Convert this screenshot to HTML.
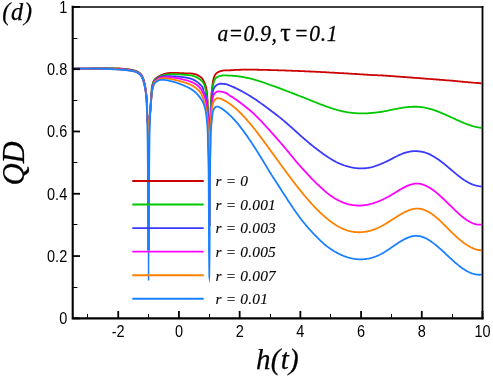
<!DOCTYPE html>
<html><head><meta charset="utf-8"><title>QD vs h(t)</title>
<style>
html,body{margin:0;padding:0;background:#fff;}
body{width:493px;height:378px;overflow:hidden;}
svg{display:block;will-change:transform;}
text{fill:#000;}
.ser{stroke:#000;stroke-width:0.25px;}
.leg{stroke:#000;stroke-width:0.1px;}
.tk{font-family:"Liberation Sans",sans-serif;font-size:16.2px;}
.leg{font-family:"Liberation Serif",serif;font-style:italic;font-size:15.4px;letter-spacing:0.2px;}
.ser{font-family:"Liberation Serif",serif;font-style:italic;}
</style></head><body>
<svg width="493" height="378" viewBox="0 0 493 378">
<rect x="0" y="0" width="493" height="378" fill="#fff"/>
<!-- curves -->
<path d="M72.70 68.60 L73.70 68.60 L74.70 68.60 L75.70 68.60 L76.70 68.60 L77.70 68.59 L78.70 68.59 L79.70 68.59 L80.70 68.58 L81.70 68.58 L82.70 68.57 L83.70 68.57 L84.70 68.56 L85.70 68.56 L86.70 68.55 L87.70 68.55 L88.70 68.54 L89.70 68.53 L90.70 68.53 L91.70 68.52 L92.70 68.51 L93.70 68.50 L94.70 68.49 L95.70 68.49 L96.70 68.48 L97.70 68.47 L98.70 68.46 L99.70 68.45 L100.00 68.45 L100.70 68.44 L101.70 68.43 L102.70 68.41 L103.70 68.39 L104.70 68.37 L105.70 68.35 L106.70 68.33 L107.70 68.32 L108.70 68.31 L109.70 68.30 L110.00 68.30 L110.70 68.30 L111.70 68.31 L112.70 68.32 L113.70 68.33 L114.70 68.35 L115.70 68.37 L116.70 68.40 L117.70 68.42 L118.70 68.45 L119.70 68.49 L120.70 68.55 L121.70 68.62 L122.70 68.71 L123.70 68.80 L124.70 68.91 L125.70 69.02 L126.70 69.14 L126.80 69.15 L127.70 69.26 L128.70 69.39 L129.70 69.54 L130.70 69.71 L131.70 69.89 L132.70 70.10 L133.70 70.33 L134.70 70.59 L134.90 70.65 L135.70 70.90 L136.70 71.30 L137.70 71.79 L138.70 72.38 L139.70 73.09 L139.90 73.25 L140.55 73.87 L140.65 73.98 L140.70 74.04 L140.75 74.10 L140.85 74.22 L140.95 74.35 L141.05 74.48 L141.15 74.61 L141.25 74.75 L141.35 74.90 L141.45 75.04 L141.55 75.20 L141.65 75.35 L141.70 75.43 L141.75 75.52 L141.85 75.68 L141.95 75.85 L142.05 76.02 L142.15 76.20 L142.25 76.38 L142.35 76.57 L142.45 76.76 L142.55 76.95 L142.65 77.15 L142.70 77.25 L142.75 77.36 L142.85 77.58 L142.95 77.83 L143.05 78.08 L143.15 78.35 L143.25 78.64 L143.35 78.94 L143.45 79.25 L143.55 79.56 L143.65 79.89 L143.70 80.06 L143.75 80.23 L143.85 80.58 L143.95 80.93 L144.05 81.29 L144.15 81.65 L144.25 82.02 L144.35 82.42 L144.45 82.83 L144.55 83.26 L144.65 83.70 L144.70 83.93 L144.75 84.16 L144.85 84.63 L144.95 85.12 L145.05 85.62 L145.15 86.13 L145.25 86.65 L145.35 87.18 L145.45 87.74 L145.55 88.31 L145.65 88.91 L145.70 89.22 L145.75 89.55 L145.85 90.23 L145.95 90.95 L146.05 91.73 L146.15 92.57 L146.25 93.47 L146.35 94.45 L146.45 95.51 L146.55 96.65 L146.65 97.65 L146.70 98.06 L146.75 98.47 L146.85 99.43 L146.95 100.82 L147.05 102.96 L147.15 106.15 L147.20 115.25 L147.25 117.04 L147.35 119.61 L147.45 121.15 L147.55 122.03 L147.65 122.62 L147.70 122.92 L147.75 123.28 L147.85 124.38 L147.95 126.30 L148.03 128.66 L148.05 129.70 L148.15 143.09 L148.25 168.02 L148.26 171.00 L148.35 204.71 L148.42 232.01 L148.45 241.76 L148.47 250.00 M148.63 250.00 L148.65 241.76 L148.68 232.01 L148.70 224.72 L148.75 204.71 L148.84 171.00 L148.85 168.02 L148.95 143.09 L148.96 141.44 L149.05 129.68 L149.07 128.67 L149.15 126.14 L149.25 123.48 L149.35 121.30 L149.45 119.52 L149.55 118.07 L149.65 116.88 L149.70 116.36 L149.75 115.87 L149.85 114.97 L149.95 114.10 L150.05 113.19 L150.15 112.16 L150.25 110.95 L150.30 110.25 L150.35 109.51 L150.45 108.04 L150.55 106.58 L150.65 105.11 L150.70 104.38 L150.75 103.66 L150.85 102.21 L150.95 100.77 L151.05 99.35 L151.15 97.95 L151.20 97.25 L151.25 96.53 L151.35 95.00 L151.45 93.39 L151.55 91.78 L151.65 90.25 L151.70 89.53 L151.75 88.86 L151.85 87.70 L151.95 86.84 L152.00 86.55 L152.05 86.31 L152.15 85.85 L152.25 85.41 L152.35 84.99 L152.45 84.59 L152.55 84.21 L152.65 83.85 L152.70 83.68 L152.75 83.51 L152.85 83.19 L152.95 82.88 L153.05 82.59 L153.15 82.32 L153.25 82.06 L153.35 81.82 L153.45 81.58 L153.55 81.37 L153.65 81.16 L153.70 81.06 L153.75 80.96 L153.85 80.78 L153.95 80.60 L154.05 80.43 L154.15 80.27 L154.25 80.12 L154.35 79.97 L154.45 79.83 L154.55 79.70 L154.65 79.57 L154.70 79.50 L154.75 79.44 L154.85 79.31 L154.90 79.25 L154.95 79.19 L155.05 79.08 L155.15 78.97 L155.25 78.87 L155.35 78.78 L155.45 78.69 L155.55 78.61 L155.65 78.53 L155.70 78.49 L155.75 78.46 L155.85 78.38 L155.95 78.30 L156.00 78.26 L156.05 78.22 L156.15 78.14 L156.25 78.06 L156.35 77.99 L156.45 77.91 L156.70 77.73 L157.50 77.19 L157.70 77.06 L158.70 76.43 L159.00 76.26 L159.70 75.87 L160.50 75.46 L160.70 75.37 L161.70 74.92 L162.00 74.79 L162.70 74.52 L163.50 74.24 L163.70 74.17 L164.70 73.87 L165.00 73.79 L165.70 73.62 L166.50 73.44 L166.70 73.40 L167.70 73.22 L168.00 73.17 L168.70 73.08 L169.50 72.99 L169.70 72.97 L170.70 72.89 L171.00 72.87 L171.70 72.83 L172.50 72.81 L172.70 72.81 L173.70 72.80 L174.00 72.80 L174.70 72.81 L175.50 72.83 L175.70 72.83 L176.70 72.87 L177.00 72.88 L177.70 72.92 L178.50 72.96 L178.70 72.98 L179.70 73.04 L180.00 73.06 L180.70 73.10 L181.50 73.15 L181.70 73.16 L182.70 73.22 L183.00 73.24 L183.70 73.27 L184.50 73.31 L184.70 73.31 L185.70 73.34 L186.00 73.35 L186.70 73.36 L187.50 73.37 L187.70 73.37 L188.70 73.39 L189.00 73.39 L189.70 73.42 L190.50 73.46 L190.70 73.47 L191.70 73.55 L192.00 73.58 L192.70 73.67 L193.50 73.80 L193.70 73.84 L194.70 74.07 L195.00 74.15 L195.70 74.37 L196.50 74.66 L196.70 74.74 L197.70 75.19 L198.00 75.35 L198.70 75.74 L199.50 76.26 L199.70 76.39 L200.70 77.16 L201.00 77.42 L201.30 77.70 L201.40 77.80 L201.50 77.90 L201.60 78.00 L201.70 78.11 L201.80 78.22 L201.90 78.33 L202.00 78.44 L202.10 78.56 L202.20 78.68 L202.30 78.80 L202.40 78.93 L202.50 79.06 L202.60 79.19 L202.70 79.33 L202.80 79.48 L202.90 79.62 L203.00 79.77 L203.10 79.93 L203.20 80.09 L203.30 80.26 L203.40 80.43 L203.50 80.61 L203.60 80.79 L203.70 80.97 L203.80 81.17 L203.90 81.36 L204.00 81.57 L204.10 81.77 L204.20 81.98 L204.30 82.20 L204.40 82.41 L204.50 82.64 L204.60 82.87 L204.70 83.10 L204.80 83.35 L204.90 83.60 L205.00 83.86 L205.10 84.13 L205.20 84.41 L205.30 84.71 L205.40 85.01 L205.50 85.33 L205.60 85.66 L205.70 86.01 L205.80 86.37 L205.90 86.75 L206.00 87.15 L206.10 87.57 L206.20 88.02 L206.30 88.51 L206.40 89.03 L206.50 89.60 L206.60 90.22 L206.70 90.89 L206.80 91.61 L206.90 92.40 L207.00 93.25 L207.10 94.27 L207.20 95.52 L207.30 96.98 L207.40 98.61 L207.50 100.37 L207.60 102.25 L207.70 104.38 L207.80 106.85 L207.90 109.57 L208.00 112.40 L208.10 115.25 L208.20 117.74 L208.30 119.78 L208.40 121.65 L208.50 123.62 L208.60 125.98 L208.70 129.01 L208.80 133.00 L208.90 138.23 L208.96 142.08 L209.00 147.84 L209.08 172.04 L209.10 180.87 L209.18 226.00 M209.42 226.00 L209.50 180.87 L209.52 172.04 L209.60 147.81 L209.64 142.08 L209.70 138.40 L209.80 133.66 L209.90 130.27 L210.00 127.81 L210.10 125.85 L210.20 123.94 L210.30 121.66 L210.35 120.25 L210.40 118.67 L210.50 115.34 L210.60 112.02 L210.70 109.00 L210.80 106.55 L210.90 104.55 L211.00 102.65 L211.10 100.86 L211.20 99.17 L211.30 97.58 L211.40 96.09 L211.50 94.69 L211.60 93.38 L211.70 92.15 L211.80 91.01 L211.90 89.95 L212.00 88.96 L212.10 88.05 L212.20 87.19 L212.30 86.35 L212.40 85.55 L212.50 84.78 L212.60 84.04 L212.70 83.34 L212.80 82.67 L212.90 82.04 L213.00 81.44 L213.10 80.88 L213.20 80.35 L213.30 79.87 L213.40 79.42 L213.50 79.02 L213.60 78.65 L213.70 78.31 L213.80 77.99 L213.90 77.68 L214.00 77.38 L214.10 77.09 L214.20 76.82 L214.30 76.56 L214.40 76.31 L214.50 76.08 L214.60 75.85 L214.70 75.64 L214.80 75.44 L214.90 75.25 L215.00 75.07 L215.10 74.90 L215.20 74.74 L215.30 74.59 L215.40 74.45 L215.50 74.32 L215.60 74.19 L215.70 74.07 L215.80 73.95 L215.90 73.84 L216.00 73.73 L216.10 73.63 L216.20 73.53 L216.30 73.43 L216.40 73.34 L216.50 73.25 L216.60 73.17 L216.70 73.08 L216.80 73.01 L216.90 72.93 L217.00 72.86 L217.10 72.79 L217.20 72.72 L217.30 72.65 L217.70 72.39 L218.70 71.82 L219.70 71.38 L220.40 71.15 L220.70 71.07 L221.70 70.83 L222.70 70.61 L223.70 70.46 L224.70 70.36 L225.00 70.35 L225.70 70.33 L226.70 70.32 L227.70 70.31 L228.70 70.30 L229.70 70.28 L230.00 70.27 L230.70 70.24 L231.70 70.16 L232.70 70.08 L233.00 70.06 L233.70 70.02 L234.70 69.96 L235.70 69.91 L236.00 69.90 L236.70 69.86 L237.70 69.82 L238.70 69.79 L239.00 69.78 L239.70 69.75 L240.70 69.73 L241.70 69.70 L242.00 69.70 L242.70 69.68 L243.70 69.67 L244.70 69.65 L245.00 69.65 L245.70 69.65 L246.70 69.64 L247.70 69.64 L248.00 69.64 L248.70 69.64 L249.70 69.64 L250.70 69.65 L251.00 69.65 L251.70 69.65 L252.70 69.66 L253.70 69.68 L254.00 69.68 L254.70 69.69 L255.70 69.71 L256.70 69.72 L257.00 69.73 L257.70 69.74 L258.70 69.76 L259.70 69.78 L260.00 69.79 L260.70 69.80 L261.70 69.82 L262.70 69.85 L263.00 69.85 L263.70 69.87 L264.70 69.89 L265.70 69.92 L266.00 69.92 L266.70 69.94 L267.70 69.97 L268.70 69.99 L269.00 70.00 L269.70 70.02 L270.70 70.04 L271.70 70.07 L272.00 70.08 L272.70 70.10 L273.70 70.13 L274.70 70.16 L275.00 70.17 L275.70 70.19 L276.70 70.22 L277.70 70.25 L278.00 70.26 L278.70 70.28 L279.70 70.31 L280.70 70.34 L281.00 70.35 L281.70 70.37 L282.70 70.41 L283.70 70.44 L284.00 70.45 L284.70 70.47 L285.70 70.51 L286.70 70.54 L287.00 70.55 L287.70 70.58 L288.70 70.62 L289.70 70.65 L290.00 70.66 L290.70 70.69 L291.70 70.73 L292.70 70.76 L293.00 70.78 L293.70 70.80 L294.70 70.84 L295.70 70.88 L296.00 70.89 L296.70 70.92 L297.70 70.96 L298.70 71.00 L299.00 71.01 L299.70 71.04 L300.70 71.08 L301.70 71.13 L302.00 71.14 L302.70 71.17 L303.70 71.21 L304.70 71.25 L305.00 71.27 L305.70 71.30 L306.70 71.34 L307.70 71.39 L308.00 71.40 L308.70 71.43 L309.70 71.48 L310.70 71.52 L311.00 71.54 L311.70 71.57 L312.70 71.62 L313.70 71.67 L314.00 71.68 L314.70 71.71 L315.70 71.76 L316.70 71.81 L317.00 71.82 L317.70 71.86 L318.70 71.91 L319.70 71.96 L320.00 71.97 L320.70 72.01 L321.70 72.06 L322.70 72.11 L323.00 72.12 L323.70 72.16 L324.70 72.21 L325.70 72.26 L326.00 72.28 L326.70 72.32 L327.70 72.37 L328.70 72.42 L329.00 72.44 L329.70 72.48 L330.70 72.53 L331.70 72.58 L332.00 72.60 L332.70 72.64 L333.70 72.69 L334.70 72.75 L335.00 72.77 L335.70 72.81 L336.70 72.86 L337.70 72.92 L338.00 72.94 L338.70 72.98 L339.70 73.03 L340.70 73.09 L341.00 73.11 L341.70 73.15 L342.70 73.21 L343.70 73.26 L344.00 73.28 L344.70 73.32 L345.70 73.38 L346.70 73.44 L347.00 73.46 L347.70 73.50 L348.70 73.56 L349.70 73.62 L350.00 73.64 L350.70 73.68 L351.70 73.75 L352.70 73.81 L353.00 73.83 L353.70 73.87 L354.70 73.93 L355.70 73.99 L356.00 74.01 L356.70 74.06 L357.70 74.12 L358.70 74.18 L359.00 74.20 L359.70 74.25 L360.70 74.31 L361.70 74.37 L362.00 74.39 L362.70 74.44 L363.70 74.50 L364.70 74.57 L365.00 74.59 L365.70 74.63 L366.70 74.70 L367.70 74.76 L368.00 74.78 L368.70 74.83 L369.70 74.90 L370.70 74.95 L371.00 74.96 L371.70 74.99 L372.70 75.03 L373.70 75.07 L374.00 75.08 L374.70 75.11 L375.70 75.15 L376.70 75.19 L377.00 75.21 L377.70 75.24 L378.70 75.28 L379.70 75.33 L380.00 75.35 L380.70 75.38 L381.70 75.44 L382.70 75.49 L383.00 75.51 L383.70 75.56 L384.70 75.62 L385.70 75.69 L386.00 75.71 L386.70 75.76 L387.70 75.83 L388.70 75.90 L389.00 75.93 L389.70 75.98 L390.70 76.05 L391.70 76.12 L392.00 76.14 L392.70 76.19 L393.70 76.26 L394.70 76.33 L395.00 76.36 L395.70 76.41 L396.70 76.48 L397.70 76.55 L398.00 76.57 L398.70 76.62 L399.70 76.70 L400.70 76.77 L401.00 76.79 L401.70 76.84 L402.70 76.92 L403.70 76.99 L404.00 77.01 L404.70 77.06 L405.70 77.14 L406.70 77.21 L407.00 77.23 L407.70 77.29 L408.70 77.36 L409.70 77.44 L410.00 77.46 L410.70 77.51 L411.70 77.59 L412.70 77.66 L413.00 77.68 L413.70 77.74 L414.70 77.81 L415.70 77.89 L416.00 77.91 L416.70 77.96 L417.70 78.04 L418.70 78.11 L419.00 78.14 L419.70 78.19 L420.70 78.27 L421.70 78.34 L422.00 78.37 L422.70 78.42 L423.70 78.50 L424.70 78.57 L425.00 78.60 L425.70 78.65 L426.70 78.73 L427.70 78.80 L428.00 78.83 L428.70 78.88 L429.70 78.96 L430.70 79.03 L431.00 79.06 L431.70 79.11 L432.70 79.19 L433.70 79.27 L434.00 79.29 L434.70 79.34 L435.70 79.42 L436.70 79.50 L437.00 79.52 L437.70 79.58 L438.70 79.66 L439.70 79.73 L440.00 79.76 L440.70 79.81 L441.70 79.89 L442.70 79.97 L443.00 79.99 L443.70 80.05 L444.70 80.12 L445.70 80.20 L446.00 80.23 L446.70 80.28 L447.70 80.36 L448.70 80.44 L449.00 80.46 L449.70 80.52 L450.70 80.60 L451.70 80.68 L452.00 80.71 L452.70 80.77 L453.70 80.86 L454.70 80.95 L455.00 80.98 L455.70 81.05 L456.70 81.15 L457.70 81.25 L458.00 81.28 L458.70 81.35 L459.70 81.45 L460.70 81.55 L461.00 81.58 L461.70 81.65 L462.70 81.75 L463.70 81.85 L464.00 81.88 L464.70 81.95 L465.70 82.04 L466.70 82.13 L467.00 82.16 L467.70 82.22 L468.70 82.31 L469.70 82.39 L470.00 82.42 L470.70 82.47 L471.70 82.55 L472.70 82.63 L473.00 82.65 L473.70 82.71 L474.70 82.79 L475.70 82.87 L476.00 82.89 L476.70 82.94 L477.70 83.02 L478.70 83.10 L479.00 83.13 L479.70 83.18 L480.70 83.26 L481.50 83.32" fill="none" stroke="#cc0000" stroke-width="1.80" stroke-linejoin="bevel" stroke-linecap="butt"/>
<path d="M72.70 68.60 L73.70 68.60 L74.70 68.59 L75.70 68.59 L76.70 68.59 L77.70 68.58 L78.70 68.58 L79.70 68.57 L80.70 68.57 L81.70 68.57 L82.70 68.56 L83.70 68.56 L84.70 68.56 L85.70 68.56 L86.70 68.55 L87.70 68.55 L88.70 68.55 L89.70 68.54 L90.70 68.54 L91.70 68.54 L92.70 68.53 L93.70 68.53 L94.70 68.53 L95.70 68.52 L96.70 68.52 L97.70 68.52 L98.70 68.52 L99.70 68.51 L100.00 68.51 L100.70 68.51 L101.70 68.51 L102.70 68.50 L103.70 68.50 L104.70 68.50 L105.70 68.49 L106.70 68.49 L107.70 68.49 L108.70 68.49 L109.70 68.49 L110.00 68.49 L110.70 68.49 L111.70 68.50 L112.70 68.51 L113.70 68.54 L114.70 68.56 L115.70 68.59 L116.70 68.63 L117.70 68.66 L118.70 68.70 L119.70 68.75 L120.70 68.81 L121.70 68.88 L122.70 68.96 L123.70 69.06 L124.70 69.16 L125.70 69.27 L126.70 69.39 L126.80 69.40 L127.70 69.51 L128.70 69.64 L129.70 69.79 L130.70 69.96 L131.70 70.14 L132.70 70.35 L133.70 70.58 L134.70 70.84 L134.90 70.90 L135.70 71.15 L136.70 71.54 L137.70 72.03 L138.70 72.63 L139.70 73.34 L139.90 73.50 L140.55 74.13 L140.65 74.25 L140.70 74.31 L140.75 74.37 L140.85 74.50 L140.95 74.63 L141.05 74.76 L141.15 74.90 L141.25 75.05 L141.35 75.20 L141.45 75.35 L141.55 75.51 L141.65 75.67 L141.70 75.76 L141.75 75.84 L141.85 76.01 L141.95 76.19 L142.05 76.37 L142.15 76.55 L142.25 76.74 L142.35 76.93 L142.45 77.13 L142.55 77.32 L142.59 77.41 L142.65 77.53 L142.70 77.64 L142.75 77.75 L142.85 77.99 L142.95 78.24 L143.05 78.51 L143.15 78.79 L143.25 79.08 L143.35 79.38 L143.45 79.70 L143.55 80.02 L143.65 80.36 L143.70 80.53 L143.75 80.70 L143.85 81.05 L143.95 81.40 L144.05 81.76 L144.09 81.91 L144.15 82.13 L144.25 82.52 L144.35 82.92 L144.45 83.34 L144.55 83.78 L144.65 84.23 L144.70 84.47 L144.75 84.70 L144.85 85.18 L144.95 85.68 L145.05 86.18 L145.15 86.70 L145.19 86.91 L145.25 87.23 L145.35 87.78 L145.45 88.34 L145.55 88.93 L145.65 89.55 L145.70 89.88 L145.75 90.22 L145.85 90.92 L145.89 91.22 L145.95 91.68 L146.05 92.49 L146.15 93.37 L146.25 94.32 L146.35 95.35 L146.45 96.46 L146.49 96.93 L146.55 97.60 L146.65 98.64 L146.70 99.17 L146.75 99.74 L146.85 101.09 L146.95 102.88 L147.05 105.30 L147.09 106.49 L147.15 111.44 L147.20 115.25 L147.25 116.72 L147.35 118.88 L147.45 120.26 L147.55 121.18 L147.65 121.93 L147.70 122.34 L147.75 122.82 L147.85 124.16 L147.95 126.24 L148.03 128.66 L148.05 129.70 L148.15 143.09 L148.25 168.02 L148.26 171.00 L148.35 204.71 L148.42 232.01 L148.45 241.76 L148.47 250.00 M148.63 250.00 L148.65 241.76 L148.68 232.01 L148.70 224.72 L148.75 204.71 L148.84 171.00 L148.85 168.02 L148.95 143.09 L148.96 141.44 L149.05 129.68 L149.07 128.67 L149.15 126.14 L149.25 123.48 L149.35 121.30 L149.45 119.52 L149.55 118.07 L149.65 116.88 L149.70 116.36 L149.75 115.87 L149.85 114.97 L149.95 114.10 L150.05 113.19 L150.15 112.16 L150.25 110.95 L150.30 110.25 L150.35 109.51 L150.45 108.02 L150.55 106.51 L150.65 105.00 L150.70 104.25 L150.75 103.51 L150.85 102.04 L150.95 100.60 L151.05 99.21 L151.15 97.89 L151.20 97.25 L151.25 96.61 L151.35 95.30 L151.45 93.97 L151.55 92.66 L151.65 91.39 L151.70 90.79 L151.75 90.21 L151.85 89.15 L151.95 88.24 L152.05 87.53 L152.10 87.25 L152.15 87.01 L152.25 86.54 L152.35 86.09 L152.45 85.66 L152.55 85.24 L152.65 84.85 L152.70 84.66 L152.75 84.48 L152.85 84.12 L152.95 83.78 L153.05 83.46 L153.15 83.15 L153.25 82.86 L153.35 82.58 L153.45 82.32 L153.55 82.07 L153.65 81.84 L153.70 81.73 L153.75 81.62 L153.85 81.41 L153.95 81.21 L154.05 81.02 L154.15 80.85 L154.25 80.68 L154.35 80.53 L154.45 80.38 L154.55 80.24 L154.65 80.11 L154.70 80.05 L154.75 79.99 L154.85 79.88 L154.95 79.77 L155.05 79.68 L155.15 79.59 L155.25 79.51 L155.35 79.43 L155.45 79.35 L155.55 79.28 L155.65 79.21 L155.70 79.17 L155.75 79.14 L155.85 79.07 L155.95 78.99 L156.00 78.95 L156.05 78.91 L156.15 78.84 L156.25 78.76 L156.35 78.69 L156.45 78.61 L156.70 78.43 L157.50 77.89 L157.70 77.76 L158.70 77.17 L159.00 77.00 L159.70 76.64 L160.50 76.27 L160.70 76.19 L161.70 75.79 L162.00 75.69 L162.70 75.46 L163.50 75.22 L163.70 75.17 L164.70 74.94 L165.00 74.87 L165.70 74.74 L166.50 74.62 L166.70 74.59 L167.70 74.48 L168.00 74.45 L168.70 74.39 L169.50 74.34 L169.70 74.33 L170.70 74.29 L171.00 74.28 L171.70 74.27 L172.50 74.26 L172.70 74.26 L173.70 74.26 L174.00 74.26 L174.70 74.26 L175.50 74.27 L175.70 74.28 L176.70 74.30 L177.00 74.31 L177.70 74.33 L178.50 74.36 L178.70 74.37 L179.70 74.41 L180.00 74.43 L180.70 74.47 L181.50 74.51 L181.70 74.53 L182.70 74.59 L183.00 74.62 L183.70 74.67 L184.50 74.73 L184.70 74.75 L185.70 74.84 L186.00 74.87 L186.70 74.94 L187.50 75.02 L187.70 75.04 L188.70 75.15 L189.00 75.19 L189.70 75.29 L190.50 75.41 L190.70 75.45 L191.70 75.64 L192.00 75.70 L192.70 75.87 L193.50 76.09 L193.70 76.15 L194.70 76.48 L195.00 76.59 L195.70 76.88 L196.50 77.24 L196.70 77.34 L197.70 77.87 L198.00 78.05 L198.70 78.49 L199.50 79.05 L199.70 79.20 L200.70 80.00 L201.00 80.26 L201.30 80.52 L201.40 80.61 L201.50 80.70 L201.60 80.79 L201.70 80.89 L201.80 80.98 L201.90 81.08 L202.00 81.18 L202.10 81.28 L202.20 81.39 L202.30 81.50 L202.40 81.61 L202.50 81.73 L202.60 81.86 L202.70 81.99 L202.80 82.12 L202.90 82.26 L203.00 82.41 L203.10 82.56 L203.20 82.71 L203.30 82.88 L203.40 83.05 L203.50 83.22 L203.60 83.41 L203.70 83.60 L203.80 83.80 L203.90 84.00 L204.00 84.22 L204.10 84.45 L204.20 84.69 L204.30 84.96 L204.40 85.24 L204.50 85.54 L204.60 85.85 L204.70 86.17 L204.80 86.51 L204.90 86.86 L205.00 87.22 L205.10 87.59 L205.20 87.97 L205.30 88.36 L205.40 88.75 L205.50 89.16 L205.60 89.59 L205.70 90.04 L205.80 90.51 L205.90 91.01 L206.00 91.52 L206.10 92.05 L206.20 92.60 L206.30 93.17 L206.40 93.75 L206.50 94.33 L206.60 94.91 L206.70 95.49 L206.80 96.10 L206.90 96.76 L207.00 97.49 L207.10 98.30 L207.20 99.21 L207.30 100.25 L207.40 101.60 L207.50 103.36 L207.60 105.46 L207.70 107.79 L207.80 110.26 L207.90 112.78 L208.00 115.25 L208.10 117.41 L208.20 119.19 L208.30 120.80 L208.40 122.46 L208.50 124.36 L208.60 126.71 L208.70 129.71 L208.80 133.58 L208.90 138.53 L208.96 142.09 L209.00 147.74 L209.08 172.04 L209.10 180.87 L209.18 226.00 M209.42 226.00 L209.50 180.87 L209.52 172.04 L209.60 147.75 L209.64 142.09 L209.70 138.57 L209.80 133.94 L209.90 130.55 L210.00 128.07 L210.10 126.14 L210.20 124.42 L210.30 122.58 L210.40 120.25 L210.50 117.49 L210.60 114.63 L210.70 111.75 L210.80 108.95 L210.90 106.31 L211.00 103.92 L211.10 101.87 L211.20 100.25 L211.30 98.91 L211.40 97.64 L211.50 96.43 L211.60 95.29 L211.70 94.22 L211.80 93.21 L211.90 92.25 L212.00 91.36 L212.10 90.53 L212.20 89.75 L212.30 89.02 L212.40 88.35 L212.50 87.73 L212.60 87.15 L212.70 86.63 L212.80 86.15 L212.90 85.70 L213.00 85.26 L213.10 84.83 L213.20 84.41 L213.30 84.01 L213.40 83.61 L213.50 83.23 L213.60 82.86 L213.70 82.51 L213.80 82.16 L213.90 81.83 L214.00 81.51 L214.10 81.21 L214.20 80.92 L214.30 80.64 L214.40 80.38 L214.50 80.13 L214.60 79.90 L214.70 79.67 L214.80 79.47 L214.90 79.28 L215.00 79.10 L215.10 78.94 L215.20 78.79 L215.30 78.66 L215.40 78.55 L215.50 78.44 L215.60 78.34 L215.70 78.24 L215.80 78.15 L215.90 78.05 L216.00 77.96 L216.10 77.88 L216.20 77.79 L216.30 77.71 L216.40 77.63 L216.50 77.55 L216.60 77.48 L216.70 77.40 L216.80 77.33 L216.90 77.27 L217.00 77.20 L217.10 77.14 L217.20 77.08 L217.70 76.80 L218.70 76.38 L219.10 76.25 L219.70 76.07 L220.70 75.80 L221.70 75.57 L222.70 75.42 L223.70 75.35 L223.80 75.35 L224.70 75.36 L225.70 75.40 L226.70 75.45 L227.70 75.51 L228.70 75.57 L229.70 75.63 L230.00 75.64 L230.70 75.68 L231.70 75.72 L232.70 75.77 L233.00 75.79 L233.70 75.84 L234.70 75.92 L235.70 76.02 L236.00 76.05 L236.70 76.12 L237.70 76.24 L238.70 76.37 L239.00 76.41 L239.70 76.51 L240.70 76.66 L241.70 76.82 L242.00 76.87 L242.70 76.99 L243.70 77.17 L244.70 77.36 L245.00 77.41 L245.70 77.55 L246.70 77.76 L247.70 77.98 L248.00 78.05 L248.70 78.21 L249.70 78.45 L250.70 78.69 L251.00 78.77 L251.70 78.94 L252.70 79.21 L253.70 79.48 L254.00 79.56 L254.70 79.75 L255.70 80.04 L256.70 80.33 L257.00 80.42 L257.70 80.63 L258.70 80.94 L259.70 81.25 L260.00 81.35 L260.70 81.57 L261.70 81.90 L262.70 82.24 L263.00 82.34 L263.70 82.58 L264.70 82.92 L265.70 83.27 L266.00 83.38 L266.70 83.63 L267.70 83.99 L268.70 84.36 L269.00 84.47 L269.70 84.73 L270.70 85.08 L271.70 85.43 L272.00 85.53 L272.70 85.77 L273.70 86.12 L274.70 86.48 L275.00 86.58 L275.70 86.83 L276.70 87.20 L277.70 87.56 L278.00 87.67 L278.70 87.93 L279.70 88.30 L280.70 88.68 L281.00 88.79 L281.70 89.05 L282.70 89.43 L283.70 89.81 L284.00 89.93 L284.70 90.20 L285.70 90.58 L286.70 90.97 L287.00 91.09 L287.70 91.36 L288.70 91.75 L289.70 92.14 L290.00 92.26 L290.70 92.53 L291.70 92.92 L292.70 93.31 L293.00 93.43 L293.70 93.70 L294.70 94.10 L295.70 94.49 L296.00 94.60 L296.70 94.87 L297.70 95.25 L298.70 95.63 L299.00 95.74 L299.70 96.00 L300.70 96.37 L301.70 96.75 L302.00 96.86 L302.70 97.13 L303.70 97.51 L304.70 97.90 L305.00 98.02 L305.70 98.30 L306.70 98.71 L307.70 99.12 L308.00 99.25 L308.70 99.54 L309.70 99.95 L310.70 100.36 L311.00 100.48 L311.70 100.77 L312.70 101.18 L313.70 101.58 L314.00 101.70 L314.70 101.98 L315.70 102.38 L316.70 102.77 L317.00 102.89 L317.70 103.16 L318.70 103.55 L319.70 103.93 L320.00 104.04 L320.70 104.31 L321.70 104.68 L322.70 105.06 L323.00 105.17 L323.70 105.43 L324.70 105.80 L325.70 106.17 L326.00 106.28 L326.70 106.53 L327.70 106.89 L328.70 107.24 L329.00 107.34 L329.70 107.58 L330.70 107.92 L331.70 108.25 L332.00 108.34 L332.70 108.57 L333.70 108.88 L334.70 109.18 L335.00 109.27 L335.70 109.47 L336.70 109.76 L337.70 110.03 L338.00 110.12 L338.70 110.30 L339.70 110.56 L340.70 110.81 L341.00 110.88 L341.70 111.05 L342.70 111.28 L343.70 111.50 L344.00 111.56 L344.70 111.70 L345.70 111.90 L346.70 112.08 L347.00 112.13 L347.70 112.25 L348.70 112.41 L349.70 112.56 L350.00 112.60 L350.70 112.69 L351.70 112.82 L352.70 112.93 L353.00 112.96 L353.70 113.03 L354.70 113.12 L355.70 113.20 L356.00 113.22 L356.70 113.27 L357.70 113.33 L358.70 113.38 L359.00 113.39 L359.70 113.40 L360.70 113.42 L361.70 113.44 L362.00 113.44 L362.70 113.44 L363.70 113.42 L364.70 113.39 L365.00 113.39 L365.70 113.36 L366.70 113.31 L367.70 113.25 L368.00 113.23 L368.70 113.19 L369.70 113.11 L370.70 113.03 L371.00 113.00 L371.70 112.94 L372.70 112.85 L373.70 112.75 L374.00 112.72 L374.70 112.65 L375.70 112.54 L376.70 112.42 L377.00 112.39 L377.70 112.30 L378.70 112.17 L379.70 112.04 L380.00 111.99 L380.70 111.89 L381.70 111.74 L382.70 111.58 L383.00 111.53 L383.70 111.41 L384.70 111.22 L385.70 111.03 L386.00 110.97 L386.70 110.83 L387.70 110.63 L388.70 110.42 L389.00 110.36 L389.70 110.21 L390.70 109.99 L391.70 109.78 L392.00 109.72 L392.70 109.57 L393.70 109.36 L394.70 109.16 L395.00 109.10 L395.70 108.97 L396.70 108.77 L397.70 108.58 L398.00 108.53 L398.70 108.40 L399.70 108.22 L400.70 108.04 L401.00 107.99 L401.70 107.87 L402.70 107.72 L403.70 107.57 L404.00 107.53 L404.70 107.43 L405.70 107.31 L406.70 107.19 L407.00 107.16 L407.70 107.10 L408.70 107.01 L409.70 106.93 L410.00 106.91 L410.70 106.87 L411.70 106.81 L412.70 106.77 L413.00 106.77 L413.70 106.76 L414.70 106.75 L415.70 106.75 L416.00 106.75 L416.70 106.77 L417.70 106.81 L418.70 106.88 L419.00 106.90 L419.70 106.95 L420.70 107.06 L421.70 107.17 L422.00 107.21 L422.70 107.31 L423.70 107.46 L424.70 107.63 L425.00 107.69 L425.70 107.82 L426.70 108.04 L427.70 108.26 L428.00 108.34 L428.70 108.51 L429.70 108.78 L430.70 109.06 L431.00 109.14 L431.70 109.35 L432.70 109.67 L433.70 109.99 L434.00 110.09 L434.70 110.33 L435.70 110.69 L436.70 111.05 L437.00 111.16 L437.70 111.43 L438.70 111.82 L439.70 112.22 L440.00 112.34 L440.70 112.63 L441.70 113.05 L442.70 113.48 L443.00 113.60 L443.70 113.91 L444.70 114.35 L445.70 114.80 L446.00 114.93 L446.70 115.24 L447.70 115.70 L448.70 116.16 L449.00 116.29 L449.70 116.62 L450.70 117.08 L451.70 117.54 L452.00 117.68 L452.70 118.00 L453.70 118.46 L454.70 118.92 L455.00 119.05 L455.70 119.37 L456.70 119.82 L457.70 120.27 L458.00 120.40 L458.70 120.71 L459.70 121.16 L460.70 121.59 L461.00 121.72 L461.70 122.02 L462.70 122.45 L463.70 122.86 L464.00 122.99 L464.70 123.27 L465.70 123.67 L466.70 124.05 L467.00 124.17 L467.70 124.43 L468.70 124.79 L469.70 125.13 L470.00 125.23 L470.70 125.46 L471.70 125.78 L472.70 126.08 L473.00 126.16 L473.70 126.36 L474.70 126.62 L475.70 126.86 L476.00 126.92 L476.70 127.07 L477.70 127.27 L478.70 127.45 L479.00 127.50 L479.70 127.60 L480.70 127.74 L481.50 127.83" fill="none" stroke="#00c800" stroke-width="1.80" stroke-linejoin="bevel" stroke-linecap="butt"/>
<path d="M72.70 68.60 L73.70 68.60 L74.70 68.59 L75.70 68.59 L76.70 68.59 L77.70 68.59 L78.70 68.59 L79.70 68.59 L80.70 68.58 L81.70 68.58 L82.70 68.58 L83.70 68.58 L84.70 68.58 L85.70 68.58 L86.70 68.58 L87.70 68.58 L88.70 68.58 L89.70 68.58 L90.70 68.58 L91.70 68.58 L92.70 68.58 L93.70 68.58 L94.70 68.58 L95.70 68.58 L96.70 68.58 L97.70 68.58 L98.70 68.58 L99.70 68.58 L100.00 68.57 L100.70 68.58 L101.70 68.58 L102.70 68.58 L103.70 68.59 L104.70 68.60 L105.70 68.61 L106.70 68.63 L107.70 68.64 L108.70 68.66 L109.70 68.67 L110.00 68.67 L110.70 68.69 L111.70 68.71 L112.70 68.73 L113.70 68.76 L114.70 68.79 L115.70 68.82 L116.70 68.86 L117.70 68.91 L118.70 68.95 L119.70 69.00 L120.70 69.07 L121.70 69.14 L122.70 69.22 L123.70 69.32 L124.70 69.42 L125.70 69.52 L126.70 69.64 L126.80 69.65 L127.70 69.76 L128.70 69.89 L129.70 70.04 L130.70 70.21 L131.70 70.39 L132.70 70.60 L133.70 70.83 L134.70 71.09 L134.90 71.15 L135.70 71.40 L136.70 71.79 L137.70 72.28 L138.70 72.87 L139.70 73.59 L139.90 73.75 L140.55 74.40 L140.65 74.52 L140.70 74.58 L140.75 74.65 L140.85 74.78 L140.95 74.91 L141.05 75.05 L141.15 75.20 L141.25 75.35 L141.35 75.51 L141.45 75.67 L141.55 75.83 L141.65 76.00 L141.70 76.09 L141.75 76.17 L141.85 76.35 L141.95 76.53 L142.05 76.72 L142.15 76.91 L142.25 77.10 L142.35 77.30 L142.45 77.50 L142.52 77.64 L142.55 77.70 L142.65 77.92 L142.70 78.03 L142.75 78.15 L142.85 78.40 L142.95 78.66 L143.05 78.94 L143.15 79.22 L143.25 79.52 L143.35 79.83 L143.45 80.15 L143.55 80.48 L143.65 80.82 L143.70 80.99 L143.75 81.17 L143.85 81.52 L143.95 81.88 L144.02 82.13 L144.05 82.24 L144.15 82.62 L144.25 83.02 L144.35 83.43 L144.45 83.86 L144.55 84.31 L144.65 84.77 L144.70 85.01 L144.75 85.25 L144.85 85.74 L144.95 86.24 L145.05 86.76 L145.12 87.12 L145.15 87.28 L145.25 87.82 L145.35 88.38 L145.45 88.96 L145.55 89.57 L145.65 90.21 L145.70 90.55 L145.75 90.90 L145.83 91.49 L145.85 91.64 L145.95 92.43 L146.05 93.29 L146.15 94.21 L146.25 95.21 L146.35 96.28 L146.43 97.21 L146.45 97.44 L146.55 98.60 L146.65 99.81 L146.70 100.46 L146.75 101.17 L146.85 102.81 L146.95 104.82 L147.02 106.52 L147.05 107.53 L147.15 113.12 L147.20 115.25 L147.25 116.50 L147.35 118.38 L147.45 119.66 L147.55 120.60 L147.65 121.46 L147.70 121.95 L147.75 122.51 L147.85 124.00 L147.95 126.21 L148.03 128.66 L148.05 129.70 L148.15 143.09 L148.25 168.02 L148.26 171.00 L148.35 204.71 L148.42 232.01 L148.45 241.76 L148.47 250.00 M148.63 250.00 L148.65 241.76 L148.68 232.01 L148.70 224.72 L148.75 204.71 L148.84 171.00 L148.85 168.02 L148.95 143.09 L148.96 141.44 L149.05 129.67 L149.07 128.67 L149.15 126.22 L149.25 123.61 L149.35 121.47 L149.45 119.70 L149.55 118.26 L149.65 117.07 L149.70 116.55 L149.75 116.06 L149.85 115.18 L149.95 114.35 L150.05 113.51 L150.15 112.59 L150.25 111.53 L150.35 110.25 L150.45 108.83 L150.55 107.38 L150.65 105.92 L150.70 105.20 L150.75 104.47 L150.85 103.04 L150.95 101.64 L151.05 100.29 L151.15 99.01 L151.25 97.81 L151.30 97.25 L151.35 96.70 L151.45 95.59 L151.55 94.49 L151.65 93.41 L151.70 92.88 L151.75 92.37 L151.85 91.38 L151.95 90.47 L152.05 89.64 L152.15 88.91 L152.25 88.31 L152.30 88.05 L152.35 87.81 L152.45 87.36 L152.55 86.91 L152.65 86.49 L152.70 86.29 L152.75 86.09 L152.85 85.70 L152.95 85.33 L153.05 84.97 L153.15 84.63 L153.25 84.30 L153.35 83.99 L153.45 83.70 L153.55 83.41 L153.65 83.14 L153.70 83.02 L153.75 82.89 L153.85 82.65 L153.95 82.42 L154.05 82.20 L154.15 81.99 L154.25 81.80 L154.35 81.61 L154.45 81.44 L154.55 81.28 L154.65 81.12 L154.70 81.05 L154.75 80.98 L154.85 80.85 L154.95 80.72 L155.05 80.60 L155.15 80.49 L155.25 80.39 L155.35 80.29 L155.45 80.20 L155.55 80.11 L155.65 80.02 L155.70 79.98 L155.75 79.94 L155.85 79.85 L155.95 79.77 L156.00 79.72 L156.05 79.68 L156.15 79.59 L156.25 79.51 L156.35 79.42 L156.45 79.34 L156.70 79.15 L157.50 78.57 L157.70 78.44 L158.70 77.84 L159.00 77.68 L159.70 77.35 L160.50 77.03 L160.70 76.96 L161.70 76.65 L162.00 76.58 L162.70 76.43 L163.50 76.30 L163.70 76.27 L164.70 76.17 L165.00 76.15 L165.70 76.12 L166.50 76.11 L166.70 76.11 L167.70 76.13 L168.00 76.13 L168.70 76.16 L169.50 76.20 L169.70 76.21 L170.70 76.26 L171.00 76.27 L171.70 76.30 L172.50 76.34 L172.70 76.35 L173.70 76.40 L174.00 76.41 L174.70 76.45 L175.50 76.49 L175.70 76.50 L176.70 76.56 L177.00 76.58 L177.70 76.62 L178.50 76.68 L178.70 76.69 L179.70 76.77 L180.00 76.80 L180.70 76.86 L181.50 76.94 L181.70 76.96 L182.70 77.08 L183.00 77.11 L183.70 77.20 L184.50 77.32 L184.70 77.34 L185.70 77.50 L186.00 77.55 L186.70 77.68 L187.50 77.84 L187.70 77.88 L188.70 78.11 L189.00 78.18 L189.70 78.37 L190.50 78.61 L190.70 78.67 L191.70 79.02 L192.00 79.13 L192.70 79.41 L193.50 79.77 L193.70 79.87 L194.70 80.39 L195.00 80.55 L195.70 80.97 L196.50 81.49 L196.70 81.62 L197.70 82.36 L198.00 82.60 L198.70 83.18 L199.50 83.90 L199.70 84.08 L200.70 85.08 L201.00 85.41 L201.30 85.73 L201.40 85.83 L201.50 85.93 L201.60 86.04 L201.70 86.15 L201.80 86.26 L201.90 86.38 L202.00 86.50 L202.10 86.63 L202.20 86.76 L202.30 86.91 L202.40 87.06 L202.50 87.23 L202.60 87.41 L202.70 87.63 L202.80 87.88 L202.90 88.15 L203.00 88.44 L203.10 88.75 L203.20 89.06 L203.30 89.39 L203.40 89.71 L203.50 90.04 L203.60 90.36 L203.70 90.67 L203.80 90.97 L203.90 91.25 L204.00 91.51 L204.10 91.75 L204.20 91.97 L204.30 92.17 L204.40 92.37 L204.50 92.56 L204.60 92.76 L204.70 92.95 L204.80 93.16 L204.90 93.38 L205.00 93.61 L205.10 93.87 L205.20 94.15 L205.30 94.45 L205.40 94.77 L205.50 95.10 L205.60 95.46 L205.70 95.83 L205.80 96.22 L205.90 96.64 L206.00 97.08 L206.10 97.55 L206.20 98.05 L206.30 98.58 L206.40 99.14 L206.50 99.74 L206.60 100.37 L206.70 101.04 L206.80 101.75 L206.90 102.57 L207.00 103.55 L207.10 104.67 L207.20 105.92 L207.30 107.29 L207.40 108.76 L207.50 110.30 L207.60 111.91 L207.70 113.56 L207.80 115.25 L207.90 116.80 L208.00 118.13 L208.10 119.36 L208.20 120.59 L208.30 121.95 L208.40 123.54 L208.50 125.48 L208.60 127.89 L208.70 130.87 L208.80 134.53 L208.90 139.00 L208.96 142.11 L209.00 147.60 L209.08 172.04 L209.10 180.87 L209.18 226.00 M209.42 226.00 L209.50 180.87 L209.52 172.04 L209.60 147.70 L209.64 142.10 L209.70 138.71 L209.80 134.13 L209.90 130.68 L210.00 128.08 L210.10 126.09 L210.20 124.46 L210.30 122.92 L210.40 121.23 L210.45 120.25 L210.50 119.21 L210.60 117.19 L210.70 115.25 L210.80 113.39 L210.90 111.61 L211.00 109.93 L211.10 108.35 L211.20 106.87 L211.30 105.50 L211.40 104.25 L211.50 103.07 L211.60 101.90 L211.70 100.76 L211.80 99.64 L211.90 98.57 L212.00 97.54 L212.10 96.56 L212.20 95.64 L212.30 94.79 L212.40 94.01 L212.50 93.31 L212.60 92.69 L212.70 92.17 L212.80 91.75 L212.90 91.39 L213.00 91.04 L213.10 90.70 L213.20 90.38 L213.30 90.07 L213.40 89.77 L213.50 89.48 L213.60 89.21 L213.70 88.95 L213.80 88.70 L213.90 88.46 L214.00 88.23 L214.10 88.02 L214.20 87.81 L214.30 87.62 L214.40 87.44 L214.50 87.27 L214.60 87.10 L214.70 86.95 L214.80 86.81 L214.90 86.68 L215.00 86.55 L215.10 86.43 L215.20 86.33 L215.30 86.23 L215.40 86.13 L215.50 86.05 L215.60 85.96 L215.70 85.88 L215.80 85.79 L215.90 85.71 L216.00 85.63 L216.10 85.55 L216.20 85.47 L216.30 85.39 L216.40 85.32 L216.50 85.24 L216.60 85.17 L216.70 85.10 L216.80 85.03 L216.90 84.96 L217.00 84.89 L217.10 84.82 L217.20 84.76 L217.70 84.46 L218.70 84.01 L219.70 83.77 L220.00 83.75 L220.70 83.73 L221.70 83.75 L222.70 83.81 L223.70 83.90 L224.70 84.01 L225.60 84.13 L225.70 84.14 L226.70 84.37 L227.70 84.72 L228.70 85.12 L229.70 85.53 L230.00 85.65 L230.70 85.91 L231.70 86.31 L232.70 86.72 L233.00 86.85 L233.70 87.16 L234.70 87.61 L235.70 88.09 L236.00 88.23 L236.70 88.57 L237.70 89.08 L238.70 89.60 L239.00 89.75 L239.70 90.12 L240.70 90.66 L241.70 91.20 L242.00 91.36 L242.70 91.75 L243.70 92.30 L244.70 92.86 L245.00 93.03 L245.70 93.43 L246.70 94.00 L247.70 94.58 L248.00 94.76 L248.70 95.17 L249.70 95.78 L250.70 96.39 L251.00 96.57 L251.70 97.01 L252.70 97.64 L253.70 98.28 L254.00 98.47 L254.70 98.93 L255.70 99.60 L256.70 100.28 L257.00 100.49 L257.70 100.98 L258.70 101.69 L259.70 102.41 L260.00 102.62 L260.70 103.13 L261.70 103.86 L262.70 104.59 L263.00 104.80 L263.70 105.31 L264.70 106.04 L265.70 106.76 L266.00 106.98 L266.70 107.49 L267.70 108.22 L268.70 108.95 L269.00 109.18 L269.70 109.69 L270.70 110.44 L271.70 111.19 L272.00 111.42 L272.70 111.95 L273.70 112.71 L274.70 113.48 L275.00 113.71 L275.70 114.25 L276.70 115.02 L277.70 115.80 L278.00 116.04 L278.70 116.59 L279.70 117.37 L280.70 118.17 L281.00 118.41 L281.70 118.99 L282.70 119.82 L283.70 120.66 L284.00 120.91 L284.70 121.51 L285.70 122.38 L286.70 123.25 L287.00 123.51 L287.70 124.12 L288.70 125.00 L289.70 125.88 L290.00 126.14 L290.70 126.75 L291.70 127.64 L292.70 128.53 L293.00 128.80 L293.70 129.43 L294.70 130.33 L295.70 131.23 L296.00 131.50 L296.70 132.13 L297.70 133.04 L298.70 133.94 L299.00 134.21 L299.70 134.83 L300.70 135.73 L301.70 136.62 L302.00 136.88 L302.70 137.50 L303.70 138.37 L304.70 139.23 L305.00 139.49 L305.70 140.08 L306.70 140.93 L307.70 141.78 L308.00 142.03 L308.70 142.61 L309.70 143.45 L310.70 144.27 L311.00 144.52 L311.70 145.09 L312.70 145.90 L313.70 146.71 L314.00 146.94 L314.70 147.50 L315.70 148.28 L316.70 149.06 L317.00 149.29 L317.70 149.82 L318.70 150.58 L319.70 151.33 L320.00 151.56 L320.70 152.07 L321.70 152.80 L322.70 153.52 L323.00 153.73 L323.70 154.23 L324.70 154.93 L325.70 155.61 L326.00 155.81 L326.70 156.28 L327.70 156.94 L328.70 157.59 L329.00 157.78 L329.70 158.22 L330.70 158.84 L331.70 159.45 L332.00 159.63 L332.70 160.04 L333.70 160.61 L334.70 161.17 L335.00 161.34 L335.70 161.71 L336.70 162.23 L337.70 162.71 L338.00 162.86 L338.70 163.18 L339.70 163.62 L340.70 164.04 L341.00 164.16 L341.70 164.43 L342.70 164.81 L343.70 165.17 L344.00 165.27 L344.70 165.50 L345.70 165.82 L346.70 166.13 L347.00 166.21 L347.70 166.41 L348.70 166.69 L349.70 166.95 L350.00 167.02 L350.70 167.19 L351.70 167.42 L352.70 167.62 L353.00 167.68 L353.70 167.80 L354.70 167.96 L355.70 168.09 L356.00 168.13 L356.70 168.20 L357.70 168.30 L358.70 168.37 L359.00 168.38 L359.70 168.39 L360.70 168.41 L361.70 168.42 L362.00 168.42 L362.70 168.40 L363.70 168.35 L364.70 168.27 L365.00 168.25 L365.70 168.18 L366.70 168.06 L367.70 167.92 L368.00 167.87 L368.70 167.75 L369.70 167.56 L370.70 167.34 L371.00 167.27 L371.70 167.11 L372.70 166.84 L373.70 166.55 L374.00 166.46 L374.70 166.24 L375.70 165.91 L376.70 165.56 L377.00 165.45 L377.70 165.20 L378.70 164.82 L379.70 164.43 L380.00 164.31 L380.70 164.03 L381.70 163.61 L382.70 163.19 L383.00 163.06 L383.70 162.75 L384.70 162.30 L385.70 161.84 L386.00 161.70 L386.70 161.37 L387.70 160.88 L388.70 160.39 L389.00 160.24 L389.70 159.89 L390.70 159.38 L391.70 158.85 L392.00 158.70 L392.70 158.33 L393.70 157.80 L394.70 157.27 L395.00 157.12 L395.70 156.75 L396.70 156.24 L397.70 155.75 L398.00 155.60 L398.70 155.27 L399.70 154.82 L400.70 154.39 L401.00 154.26 L401.70 153.98 L402.70 153.58 L403.70 153.21 L404.00 153.11 L404.70 152.87 L405.70 152.56 L406.70 152.27 L407.00 152.20 L407.70 152.03 L408.70 151.81 L409.70 151.62 L410.00 151.58 L410.70 151.48 L411.70 151.35 L412.70 151.26 L413.00 151.25 L413.70 151.22 L414.70 151.19 L415.70 151.17 L416.00 151.17 L416.70 151.18 L417.70 151.25 L418.70 151.33 L419.00 151.36 L419.70 151.43 L420.70 151.58 L421.70 151.75 L422.00 151.81 L422.70 151.95 L423.70 152.18 L424.70 152.45 L425.00 152.53 L425.70 152.74 L426.70 153.09 L427.70 153.49 L428.00 153.61 L428.70 153.92 L429.70 154.40 L430.70 154.91 L431.00 155.07 L431.70 155.45 L432.70 156.02 L433.70 156.61 L434.00 156.79 L434.70 157.21 L435.70 157.83 L436.70 158.46 L437.00 158.65 L437.70 159.11 L438.70 159.80 L439.70 160.51 L440.00 160.73 L440.70 161.25 L441.70 162.00 L442.70 162.78 L443.00 163.01 L443.70 163.56 L444.70 164.37 L445.70 165.19 L446.00 165.43 L446.70 166.01 L447.70 166.85 L448.70 167.70 L449.00 167.95 L449.70 168.54 L450.70 169.39 L451.70 170.24 L452.00 170.50 L452.70 171.09 L453.70 171.93 L454.70 172.77 L455.00 173.02 L455.70 173.60 L456.70 174.42 L457.70 175.23 L458.00 175.47 L458.70 176.02 L459.70 176.80 L460.70 177.55 L461.00 177.78 L461.70 178.29 L462.70 179.01 L463.70 179.70 L464.00 179.90 L464.70 180.36 L465.70 180.99 L466.70 181.59 L467.00 181.77 L467.70 182.16 L468.70 182.70 L469.70 183.21 L470.00 183.35 L470.70 183.68 L471.70 184.11 L472.70 184.52 L473.00 184.63 L473.70 184.88 L474.70 185.21 L475.70 185.50 L476.00 185.58 L476.70 185.75 L477.70 185.97 L478.70 186.15 L479.00 186.19 L479.70 186.28 L480.70 186.38 L481.50 186.43" fill="none" stroke="#3a3aff" stroke-width="1.80" stroke-linejoin="bevel" stroke-linecap="butt"/>
<path d="M72.70 68.60 L73.70 68.60 L74.70 68.60 L75.70 68.60 L76.70 68.60 L77.70 68.60 L78.70 68.60 L79.70 68.60 L80.70 68.60 L81.70 68.60 L82.70 68.60 L83.70 68.60 L84.70 68.60 L85.70 68.60 L86.70 68.61 L87.70 68.61 L88.70 68.61 L89.70 68.61 L90.70 68.61 L91.70 68.61 L92.70 68.61 L93.70 68.61 L94.70 68.62 L95.70 68.62 L96.70 68.62 L97.70 68.62 L98.70 68.62 L99.70 68.62 L100.00 68.62 L100.70 68.63 L101.70 68.64 L102.70 68.65 L103.70 68.67 L104.70 68.69 L105.70 68.71 L106.70 68.74 L107.70 68.76 L108.70 68.79 L109.70 68.82 L110.00 68.83 L110.70 68.84 L111.70 68.87 L112.70 68.90 L113.70 68.94 L114.70 68.97 L115.70 69.01 L116.70 69.05 L117.70 69.10 L118.70 69.15 L119.70 69.21 L120.70 69.27 L121.70 69.35 L122.70 69.43 L123.70 69.52 L124.70 69.62 L125.70 69.72 L126.70 69.84 L126.80 69.85 L127.70 69.96 L128.70 70.09 L129.70 70.24 L130.70 70.41 L131.70 70.59 L132.70 70.80 L133.70 71.03 L134.70 71.29 L134.90 71.35 L135.70 71.60 L136.70 71.99 L137.70 72.47 L138.70 73.07 L139.70 73.79 L139.90 73.95 L140.55 74.61 L140.65 74.74 L140.70 74.80 L140.75 74.87 L140.85 75.00 L140.95 75.14 L141.05 75.29 L141.15 75.44 L141.25 75.59 L141.35 75.75 L141.45 75.92 L141.55 76.09 L141.65 76.26 L141.70 76.35 L141.75 76.44 L141.85 76.62 L141.95 76.81 L142.05 77.00 L142.15 77.19 L142.25 77.39 L142.35 77.59 L142.45 77.80 L142.48 77.86 L142.55 78.01 L142.65 78.24 L142.70 78.36 L142.75 78.48 L142.85 78.73 L142.95 79.00 L143.05 79.28 L143.15 79.58 L143.25 79.88 L143.35 80.20 L143.45 80.52 L143.55 80.85 L143.65 81.19 L143.70 81.37 L143.75 81.54 L143.85 81.90 L143.95 82.26 L143.98 82.37 L144.05 82.63 L144.15 83.02 L144.25 83.42 L144.35 83.85 L144.45 84.29 L144.55 84.74 L144.65 85.21 L144.70 85.45 L144.75 85.69 L144.85 86.19 L144.95 86.70 L145.05 87.22 L145.07 87.32 L145.15 87.75 L145.25 88.30 L145.35 88.86 L145.45 89.46 L145.55 90.08 L145.65 90.75 L145.70 91.10 L145.75 91.46 L145.78 91.69 L145.85 92.23 L145.95 93.05 L146.05 93.94 L146.15 94.90 L146.25 95.94 L146.35 97.06 L146.38 97.41 L146.45 98.25 L146.55 99.49 L146.65 100.85 L146.70 101.59 L146.75 102.39 L146.85 104.17 L146.95 106.27 L146.98 106.97 L147.05 109.41 L147.15 113.65 L147.20 115.25 L147.25 116.37 L147.35 118.09 L147.45 119.30 L147.55 120.26 L147.65 121.18 L147.70 121.71 L147.75 122.32 L147.85 123.91 L147.95 126.19 L148.03 128.66 L148.05 129.70 L148.15 143.09 L148.25 168.02 L148.26 171.00 L148.35 204.71 L148.42 232.01 L148.45 241.76 L148.47 250.00 M148.63 250.00 L148.65 241.76 L148.68 232.01 L148.70 224.72 L148.75 204.71 L148.84 171.00 L148.85 168.02 L148.95 143.09 L148.96 141.44 L149.05 129.67 L149.07 128.67 L149.15 126.21 L149.25 123.61 L149.35 121.45 L149.45 119.67 L149.55 118.21 L149.65 117.01 L149.70 116.49 L149.75 116.00 L149.85 115.11 L149.95 114.28 L150.05 113.44 L150.15 112.54 L150.25 111.49 L150.35 110.25 L150.45 108.87 L150.55 107.47 L150.65 106.07 L150.70 105.37 L150.75 104.67 L150.85 103.29 L150.95 101.96 L151.05 100.67 L151.15 99.44 L151.25 98.30 L151.35 97.25 L151.45 96.26 L151.55 95.28 L151.65 94.32 L151.70 93.86 L151.75 93.40 L151.85 92.52 L151.95 91.68 L152.05 90.91 L152.15 90.19 L152.25 89.55 L152.35 89.00 L152.40 88.75 L152.45 88.52 L152.55 88.06 L152.65 87.63 L152.70 87.42 L152.75 87.21 L152.85 86.80 L152.95 86.41 L153.05 86.03 L153.15 85.67 L153.25 85.32 L153.35 84.99 L153.45 84.67 L153.55 84.37 L153.65 84.07 L153.70 83.93 L153.75 83.79 L153.85 83.53 L153.95 83.27 L154.05 83.03 L154.15 82.80 L154.25 82.59 L154.35 82.38 L154.45 82.19 L154.55 82.00 L154.65 81.83 L154.70 81.75 L154.75 81.67 L154.85 81.52 L154.95 81.38 L155.05 81.25 L155.15 81.12 L155.25 81.00 L155.35 80.89 L155.45 80.78 L155.55 80.68 L155.65 80.58 L155.70 80.53 L155.75 80.48 L155.85 80.38 L155.95 80.29 L156.00 80.24 L156.05 80.19 L156.15 80.10 L156.25 80.00 L156.35 79.91 L156.45 79.82 L156.70 79.60 L157.50 78.99 L157.70 78.85 L158.70 78.27 L159.00 78.13 L159.70 77.84 L160.50 77.58 L160.70 77.53 L161.70 77.31 L162.00 77.27 L162.70 77.19 L163.50 77.12 L163.70 77.11 L164.70 77.08 L165.00 77.07 L165.70 77.08 L166.50 77.09 L166.70 77.10 L167.70 77.14 L168.00 77.16 L168.70 77.21 L169.50 77.27 L169.70 77.28 L170.70 77.37 L171.00 77.40 L171.70 77.47 L172.50 77.56 L172.70 77.58 L173.70 77.70 L174.00 77.74 L174.70 77.83 L175.50 77.95 L175.70 77.98 L176.70 78.13 L177.00 78.18 L177.70 78.30 L178.50 78.44 L178.70 78.47 L179.70 78.66 L180.00 78.72 L180.70 78.87 L181.50 79.04 L181.70 79.08 L182.70 79.31 L183.00 79.39 L183.70 79.56 L184.50 79.76 L184.70 79.82 L185.70 80.09 L186.00 80.18 L186.70 80.38 L187.50 80.62 L187.70 80.69 L188.70 81.01 L189.00 81.12 L189.70 81.36 L190.50 81.66 L190.70 81.74 L191.70 82.14 L192.00 82.27 L192.70 82.58 L193.50 82.95 L193.70 83.05 L194.70 83.55 L195.00 83.72 L195.70 84.13 L196.50 84.65 L196.70 84.79 L197.70 85.57 L198.00 85.83 L198.70 86.50 L199.50 87.37 L199.70 87.61 L200.70 88.92 L201.00 89.35 L201.30 89.81 L201.40 89.96 L201.50 90.12 L201.60 90.29 L201.70 90.45 L201.80 90.62 L201.90 90.79 L202.00 90.96 L202.10 91.14 L202.20 91.32 L202.30 91.50 L202.40 91.68 L202.50 91.87 L202.60 92.05 L202.70 92.24 L202.80 92.42 L202.90 92.61 L203.00 92.80 L203.10 93.00 L203.20 93.19 L203.30 93.39 L203.40 93.60 L203.50 93.82 L203.60 94.04 L203.70 94.26 L203.80 94.50 L203.90 94.75 L204.00 95.00 L204.10 95.27 L204.20 95.53 L204.30 95.80 L204.40 96.07 L204.50 96.34 L204.60 96.62 L204.70 96.90 L204.80 97.20 L204.90 97.50 L205.00 97.81 L205.10 98.13 L205.20 98.46 L205.30 98.80 L205.40 99.15 L205.50 99.52 L205.60 99.90 L205.70 100.30 L205.80 100.72 L205.90 101.15 L206.00 101.60 L206.10 102.07 L206.20 102.56 L206.30 103.08 L206.40 103.61 L206.50 104.17 L206.60 104.75 L206.70 105.40 L206.80 106.17 L206.90 107.04 L207.00 108.00 L207.10 109.05 L207.20 110.18 L207.30 111.37 L207.40 112.62 L207.50 113.91 L207.60 115.25 L207.70 116.50 L207.80 117.58 L207.90 118.58 L208.00 119.55 L208.10 120.58 L208.20 121.74 L208.30 123.09 L208.40 124.71 L208.50 126.67 L208.60 129.05 L208.70 131.91 L208.80 135.32 L208.90 139.37 L208.96 142.13 L209.00 147.49 L209.08 172.04 L209.10 180.87 L209.18 226.00 M209.42 226.00 L209.50 180.87 L209.52 172.04 L209.60 147.66 L209.64 142.10 L209.70 138.85 L209.80 134.37 L209.90 130.90 L210.00 128.25 L210.10 126.22 L210.20 124.60 L210.30 123.20 L210.40 121.81 L210.50 120.25 L210.60 118.58 L210.70 117.01 L210.80 115.53 L210.90 114.13 L211.00 112.82 L211.10 111.57 L211.20 110.40 L211.30 109.28 L211.40 108.23 L211.50 107.22 L211.60 106.25 L211.70 105.30 L211.80 104.35 L211.90 103.42 L212.00 102.51 L212.10 101.63 L212.20 100.79 L212.30 100.01 L212.40 99.29 L212.50 98.65 L212.60 98.08 L212.70 97.62 L212.80 97.25 L212.90 96.95 L213.00 96.66 L213.10 96.38 L213.20 96.11 L213.30 95.85 L213.40 95.61 L213.50 95.37 L213.60 95.15 L213.70 94.94 L213.80 94.73 L213.90 94.54 L214.00 94.36 L214.10 94.18 L214.20 94.02 L214.30 93.86 L214.40 93.72 L214.50 93.58 L214.60 93.44 L214.70 93.32 L214.80 93.20 L214.90 93.10 L215.00 92.99 L215.10 92.90 L215.20 92.81 L215.30 92.73 L215.40 92.65 L215.50 92.58 L215.60 92.50 L215.70 92.43 L215.80 92.36 L215.90 92.29 L216.00 92.22 L216.10 92.16 L216.20 92.09 L216.30 92.03 L216.40 91.96 L216.50 91.91 L216.60 91.85 L216.70 91.79 L216.80 91.74 L216.90 91.69 L217.00 91.64 L217.10 91.60 L217.20 91.56 L217.70 91.41 L218.20 91.35 L218.70 91.36 L219.70 91.46 L220.70 91.61 L221.70 91.80 L222.00 91.85 L222.70 91.99 L223.70 92.23 L224.70 92.53 L225.60 92.85 L225.70 92.89 L226.70 93.40 L227.70 94.06 L228.70 94.79 L229.70 95.49 L230.00 95.69 L230.70 96.12 L231.70 96.73 L232.70 97.36 L233.00 97.55 L233.70 98.01 L234.70 98.69 L235.70 99.38 L236.00 99.59 L236.70 100.08 L237.70 100.80 L238.70 101.54 L239.00 101.76 L239.70 102.28 L240.70 103.02 L241.70 103.78 L242.00 104.01 L242.70 104.54 L243.70 105.32 L244.70 106.10 L245.00 106.33 L245.70 106.88 L246.70 107.68 L247.70 108.48 L248.00 108.73 L248.70 109.29 L249.70 110.12 L250.70 110.95 L251.00 111.21 L251.70 111.82 L252.70 112.72 L253.70 113.65 L254.00 113.93 L254.70 114.60 L255.70 115.57 L256.70 116.56 L257.00 116.86 L257.70 117.56 L258.70 118.57 L259.70 119.58 L260.00 119.89 L260.70 120.60 L261.70 121.65 L262.70 122.72 L263.00 123.05 L263.70 123.81 L264.70 124.91 L265.70 126.02 L266.00 126.35 L266.70 127.13 L267.70 128.25 L268.70 129.36 L269.00 129.69 L269.70 130.46 L270.70 131.56 L271.70 132.67 L272.00 133.00 L272.70 133.79 L273.70 134.91 L274.70 136.05 L275.00 136.39 L275.70 137.18 L276.70 138.33 L277.70 139.47 L278.00 139.81 L278.70 140.61 L279.70 141.75 L280.70 142.90 L281.00 143.24 L281.70 144.05 L282.70 145.21 L283.70 146.39 L284.00 146.74 L284.70 147.57 L285.70 148.76 L286.70 149.96 L287.00 150.32 L287.70 151.17 L288.70 152.38 L289.70 153.59 L290.00 153.96 L290.70 154.81 L291.70 156.04 L292.70 157.26 L293.00 157.63 L293.70 158.49 L294.70 159.72 L295.70 160.94 L296.00 161.30 L296.70 162.12 L297.70 163.29 L298.70 164.42 L299.00 164.76 L299.70 165.54 L300.70 166.65 L301.70 167.75 L302.00 168.08 L302.70 168.84 L303.70 169.94 L304.70 171.03 L305.00 171.37 L305.70 172.14 L306.70 173.23 L307.70 174.32 L308.00 174.64 L308.70 175.40 L309.70 176.46 L310.70 177.52 L311.00 177.83 L311.70 178.56 L312.70 179.59 L313.70 180.61 L314.00 180.91 L314.70 181.62 L315.70 182.61 L316.70 183.57 L317.00 183.85 L317.70 184.51 L318.70 185.43 L319.70 186.35 L320.00 186.63 L320.70 187.27 L321.70 188.20 L322.70 189.13 L323.00 189.40 L323.70 190.03 L324.70 190.91 L325.70 191.77 L326.00 192.02 L326.70 192.60 L327.70 193.41 L328.70 194.19 L329.00 194.41 L329.70 194.94 L330.70 195.66 L331.70 196.36 L332.00 196.57 L332.70 197.04 L333.70 197.68 L334.70 198.31 L335.00 198.49 L335.70 198.90 L336.70 199.47 L337.70 200.01 L338.00 200.17 L338.70 200.53 L339.70 201.02 L340.70 201.49 L341.00 201.62 L341.70 201.93 L342.70 202.35 L343.70 202.73 L344.00 202.85 L344.70 203.10 L345.70 203.44 L346.70 203.75 L347.00 203.84 L347.70 204.03 L348.70 204.30 L349.70 204.54 L350.00 204.60 L350.70 204.74 L351.70 204.93 L352.70 205.10 L353.00 205.14 L353.70 205.23 L354.70 205.34 L355.70 205.43 L356.00 205.45 L356.70 205.48 L357.70 205.51 L358.70 205.53 L359.00 205.54 L359.70 205.53 L360.70 205.49 L361.70 205.43 L362.00 205.41 L362.70 205.36 L363.70 205.25 L364.70 205.12 L365.00 205.08 L365.70 204.98 L366.70 204.81 L367.70 204.62 L368.00 204.56 L368.70 204.42 L369.70 204.19 L370.70 203.94 L371.00 203.86 L371.70 203.67 L372.70 203.38 L373.70 203.07 L374.00 202.98 L374.70 202.75 L375.70 202.40 L376.70 202.04 L377.00 201.93 L377.70 201.66 L378.70 201.27 L379.70 200.85 L380.00 200.73 L380.70 200.43 L381.70 199.98 L382.70 199.52 L383.00 199.38 L383.70 199.04 L384.70 198.55 L385.70 198.04 L386.00 197.89 L386.70 197.52 L387.70 196.99 L388.70 196.44 L389.00 196.27 L389.70 195.88 L390.70 195.30 L391.70 194.71 L392.00 194.53 L392.70 194.11 L393.70 193.51 L394.70 192.89 L395.00 192.71 L395.70 192.28 L396.70 191.67 L397.70 191.05 L398.00 190.87 L398.70 190.45 L399.70 189.85 L400.70 189.26 L401.00 189.09 L401.70 188.69 L402.70 188.13 L403.70 187.60 L404.00 187.44 L404.70 187.08 L405.70 186.59 L406.70 186.13 L407.00 186.00 L407.70 185.70 L408.70 185.29 L409.70 184.93 L410.00 184.83 L410.70 184.60 L411.70 184.31 L412.70 184.06 L413.00 184.01 L413.70 183.88 L414.70 183.71 L415.70 183.62 L416.00 183.61 L416.70 183.62 L417.70 183.65 L418.70 183.69 L419.00 183.71 L419.70 183.78 L420.70 183.98 L421.70 184.23 L422.00 184.31 L422.70 184.51 L423.70 184.85 L424.70 185.24 L425.00 185.37 L425.70 185.67 L426.70 186.15 L427.70 186.67 L428.00 186.83 L428.70 187.22 L429.70 187.82 L430.70 188.45 L431.00 188.65 L431.70 189.12 L432.70 189.82 L433.70 190.55 L434.00 190.77 L434.70 191.31 L435.70 192.10 L436.70 192.91 L437.00 193.16 L437.70 193.75 L438.70 194.61 L439.70 195.49 L440.00 195.76 L440.70 196.38 L441.70 197.30 L442.70 198.23 L443.00 198.51 L443.70 199.17 L444.70 200.13 L445.70 201.09 L446.00 201.38 L446.70 202.06 L447.70 203.03 L448.70 204.01 L449.00 204.31 L449.70 204.99 L450.70 205.98 L451.70 206.96 L452.00 207.25 L452.70 207.93 L453.70 208.90 L454.70 209.86 L455.00 210.15 L455.70 210.81 L456.70 211.75 L457.70 212.68 L458.00 212.95 L458.70 213.58 L459.70 214.47 L460.70 215.34 L461.00 215.59 L461.70 216.18 L462.70 216.99 L463.70 217.78 L464.00 218.01 L464.70 218.54 L465.70 219.26 L466.70 219.95 L467.00 220.15 L467.70 220.60 L468.70 221.22 L469.70 221.79 L470.00 221.95 L470.70 222.31 L471.70 222.80 L472.70 223.23 L473.00 223.35 L473.70 223.61 L474.70 223.95 L475.70 224.22 L476.00 224.29 L476.70 224.42 L477.70 224.60 L478.70 224.70 L479.00 224.70 L479.70 224.70 L480.70 224.68 L481.50 224.61" fill="none" stroke="#ff00ff" stroke-width="1.80" stroke-linejoin="bevel" stroke-linecap="butt"/>
<path d="M72.70 68.60 L73.70 68.60 L74.70 68.60 L75.70 68.60 L76.70 68.60 L77.70 68.60 L78.70 68.60 L79.70 68.60 L80.70 68.61 L81.70 68.61 L82.70 68.61 L83.70 68.61 L84.70 68.61 L85.70 68.62 L86.70 68.62 L87.70 68.62 L88.70 68.62 L89.70 68.63 L90.70 68.63 L91.70 68.64 L92.70 68.64 L93.70 68.64 L94.70 68.65 L95.70 68.65 L96.70 68.66 L97.70 68.66 L98.70 68.67 L99.70 68.67 L100.00 68.67 L100.70 68.68 L101.70 68.70 L102.70 68.72 L103.70 68.75 L104.70 68.78 L105.70 68.81 L106.70 68.85 L107.70 68.89 L108.70 68.93 L109.70 68.96 L110.00 68.97 L110.70 69.00 L111.70 69.04 L112.70 69.07 L113.70 69.11 L114.70 69.15 L115.70 69.20 L116.70 69.24 L117.70 69.29 L118.70 69.35 L119.70 69.41 L120.70 69.48 L121.70 69.55 L122.70 69.63 L123.70 69.72 L124.70 69.82 L125.70 69.93 L126.70 70.04 L126.80 70.05 L127.70 70.16 L128.70 70.29 L129.70 70.44 L130.70 70.61 L131.70 70.79 L132.70 71.00 L133.70 71.23 L134.70 71.49 L134.90 71.55 L135.70 71.80 L136.70 72.19 L137.70 72.67 L138.70 73.26 L139.70 73.99 L139.90 74.15 L140.55 74.83 L140.65 74.95 L140.70 75.02 L140.75 75.09 L140.85 75.23 L140.95 75.37 L141.05 75.52 L141.15 75.68 L141.25 75.84 L141.35 76.00 L141.45 76.17 L141.55 76.35 L141.65 76.53 L141.70 76.62 L141.75 76.71 L141.85 76.90 L141.95 77.09 L142.05 77.29 L142.15 77.49 L142.25 77.69 L142.35 77.89 L142.43 78.06 L142.45 78.10 L142.55 78.32 L142.65 78.56 L142.70 78.68 L142.75 78.81 L142.85 79.07 L142.95 79.35 L143.05 79.63 L143.15 79.93 L143.25 80.24 L143.35 80.56 L143.45 80.89 L143.55 81.22 L143.65 81.57 L143.70 81.74 L143.75 81.92 L143.85 82.28 L143.93 82.57 L143.95 82.64 L144.05 83.02 L144.15 83.42 L144.25 83.83 L144.35 84.26 L144.45 84.71 L144.55 85.17 L144.65 85.65 L144.70 85.89 L144.75 86.14 L144.85 86.64 L144.95 87.16 L145.02 87.52 L145.05 87.68 L145.15 88.22 L145.25 88.78 L145.35 89.36 L145.45 89.97 L145.55 90.61 L145.65 91.30 L145.70 91.66 L145.73 91.89 L145.75 92.04 L145.85 92.83 L145.95 93.69 L146.05 94.61 L146.15 95.61 L146.25 96.68 L146.33 97.61 L146.35 97.85 L146.45 99.10 L146.55 100.47 L146.65 101.97 L146.70 102.78 L146.75 103.64 L146.85 105.50 L146.93 107.16 L146.95 107.64 L147.05 110.71 L147.15 113.96 L147.20 115.25 L147.25 116.27 L147.35 117.85 L147.45 119.02 L147.55 119.98 L147.65 120.96 L147.70 121.52 L147.75 122.17 L147.85 123.84 L147.95 126.17 L148.03 128.66 L148.05 129.70 L148.15 143.09 L148.25 168.02 L148.26 171.00 L148.35 204.71 L148.42 232.01 L148.45 241.76 L148.47 250.00 M148.63 250.00 L148.65 241.76 L148.68 232.01 L148.70 224.72 L148.75 204.71 L148.84 171.00 L148.85 168.02 L148.95 143.09 L148.96 141.44 L149.05 129.66 L149.07 128.67 L149.15 126.28 L149.25 123.74 L149.35 121.62 L149.45 119.87 L149.55 118.43 L149.65 117.25 L149.70 116.73 L149.75 116.25 L149.85 115.38 L149.95 114.58 L150.05 113.79 L150.15 112.95 L150.25 112.00 L150.35 110.89 L150.40 110.25 L150.45 109.57 L150.55 108.19 L150.65 106.77 L150.70 106.06 L150.75 105.35 L150.85 103.94 L150.95 102.56 L151.05 101.23 L151.15 99.97 L151.25 98.80 L151.35 97.74 L151.40 97.25 L151.45 96.79 L151.55 95.88 L151.65 95.00 L151.70 94.58 L151.75 94.16 L151.85 93.36 L151.95 92.60 L152.05 91.88 L152.15 91.21 L152.25 90.58 L152.35 90.01 L152.45 89.49 L152.50 89.25 L152.55 89.02 L152.65 88.57 L152.70 88.35 L152.75 88.13 L152.85 87.69 L152.95 87.28 L153.05 86.87 L153.15 86.47 L153.25 86.09 L153.35 85.72 L153.45 85.37 L153.55 85.03 L153.65 84.70 L153.70 84.54 L153.75 84.39 L153.85 84.09 L153.95 83.81 L154.05 83.55 L154.15 83.30 L154.25 83.07 L154.35 82.85 L154.45 82.66 L154.55 82.48 L154.65 82.32 L154.70 82.25 L154.75 82.18 L154.85 82.05 L154.95 81.93 L155.05 81.82 L155.15 81.72 L155.25 81.63 L155.35 81.54 L155.45 81.45 L155.55 81.37 L155.65 81.29 L155.70 81.25 L155.75 81.21 L155.85 81.14 L155.95 81.06 L156.00 81.02 L156.05 80.98 L156.15 80.90 L156.25 80.82 L156.35 80.75 L156.45 80.67 L156.70 80.50 L157.50 79.99 L157.70 79.88 L158.70 79.36 L159.00 79.23 L159.70 78.95 L160.50 78.70 L160.70 78.64 L161.70 78.42 L162.00 78.37 L162.70 78.28 L163.50 78.22 L163.70 78.22 L164.70 78.22 L165.00 78.22 L165.70 78.25 L166.50 78.33 L166.70 78.35 L167.70 78.48 L168.00 78.52 L168.70 78.64 L169.50 78.78 L169.70 78.81 L170.70 79.00 L171.00 79.05 L171.70 79.19 L172.50 79.35 L172.70 79.39 L173.70 79.60 L174.00 79.66 L174.70 79.82 L175.50 80.00 L175.70 80.04 L176.70 80.28 L177.00 80.35 L177.70 80.52 L178.50 80.72 L178.70 80.77 L179.70 81.04 L180.00 81.12 L180.70 81.31 L181.50 81.54 L181.70 81.60 L182.70 81.89 L183.00 81.98 L183.70 82.20 L184.50 82.45 L184.70 82.51 L185.70 82.84 L186.00 82.94 L186.70 83.19 L187.50 83.47 L187.70 83.55 L188.70 83.93 L189.00 84.06 L189.70 84.35 L190.50 84.71 L190.70 84.81 L191.70 85.31 L192.00 85.46 L192.70 85.85 L193.50 86.33 L193.70 86.46 L194.70 87.13 L195.00 87.34 L195.70 87.86 L196.50 88.50 L196.70 88.67 L197.70 89.56 L198.00 89.85 L198.70 90.53 L199.50 91.39 L199.70 91.61 L200.70 92.80 L201.00 93.25 L201.30 93.78 L201.40 93.97 L201.50 94.18 L201.60 94.40 L201.70 94.62 L201.80 94.85 L201.90 95.09 L202.00 95.34 L202.10 95.59 L202.20 95.84 L202.30 96.10 L202.40 96.36 L202.50 96.62 L202.60 96.89 L202.70 97.17 L202.80 97.47 L202.90 97.77 L203.00 98.08 L203.10 98.39 L203.20 98.72 L203.30 99.05 L203.40 99.38 L203.50 99.72 L203.60 100.06 L203.70 100.40 L203.80 100.74 L203.90 101.09 L204.00 101.43 L204.10 101.77 L204.20 102.10 L204.30 102.42 L204.40 102.73 L204.50 103.04 L204.60 103.35 L204.70 103.65 L204.80 103.96 L204.90 104.27 L205.00 104.58 L205.10 104.89 L205.20 105.22 L205.30 105.55 L205.40 105.89 L205.50 106.24 L205.60 106.61 L205.70 106.99 L205.80 107.38 L205.90 107.80 L206.00 108.23 L206.10 108.69 L206.20 109.16 L206.30 109.67 L206.40 110.19 L206.50 110.75 L206.60 111.35 L206.70 111.99 L206.80 112.69 L206.90 113.45 L207.00 114.27 L207.10 115.15 L207.20 116.09 L207.30 117.10 L207.40 118.18 L207.50 119.33 L207.60 120.56 L207.70 121.86 L207.80 123.24 L207.90 124.70 L208.00 126.25 L208.10 127.93 L208.20 129.85 L208.30 132.13 L208.40 134.88 L208.50 138.22 L208.60 142.25 L208.70 148.20 L208.80 157.42 L208.90 170.25 L209.00 196.90 L209.09 226.00 M209.42 226.00 L209.50 180.87 L209.52 172.04 L209.60 147.42 L209.64 142.14 L209.70 139.69 L209.80 136.38 L209.90 133.89 L210.00 132.04 L210.10 130.66 L210.20 129.56 L210.30 128.58 L210.40 127.53 L210.50 126.25 L210.60 124.78 L210.70 123.31 L210.80 121.84 L210.90 120.38 L211.00 118.94 L211.10 117.53 L211.20 116.16 L211.30 114.84 L211.40 113.58 L211.50 112.38 L211.60 111.25 L211.70 110.21 L211.80 109.26 L211.90 108.41 L212.00 107.67 L212.10 107.05 L212.20 106.55 L212.30 106.13 L212.40 105.72 L212.50 105.33 L212.60 104.96 L212.70 104.60 L212.80 104.26 L212.90 103.93 L213.00 103.61 L213.10 103.31 L213.20 103.02 L213.30 102.75 L213.40 102.49 L213.50 102.24 L213.60 102.00 L213.70 101.77 L213.80 101.56 L213.90 101.36 L214.00 101.16 L214.10 100.98 L214.20 100.81 L214.30 100.65 L214.40 100.49 L214.50 100.35 L214.60 100.21 L214.70 100.08 L214.80 99.96 L214.90 99.85 L215.00 99.74 L215.10 99.63 L215.20 99.53 L215.30 99.42 L215.40 99.32 L215.50 99.22 L215.60 99.12 L215.70 99.02 L215.80 98.93 L215.90 98.84 L216.00 98.75 L216.10 98.67 L216.20 98.60 L216.30 98.52 L216.40 98.46 L216.50 98.40 L216.60 98.34 L216.70 98.29 L216.80 98.25 L216.90 98.22 L217.00 98.19 L217.10 98.17 L217.20 98.15 L217.30 98.15 L217.70 98.16 L218.70 98.29 L219.70 98.48 L220.00 98.55 L220.70 98.76 L221.70 99.18 L222.50 99.55 L222.70 99.64 L223.70 100.12 L224.70 100.65 L225.60 101.15 L225.70 101.21 L226.70 101.81 L227.70 102.45 L228.70 103.13 L229.70 103.82 L230.00 104.03 L230.70 104.53 L231.70 105.27 L232.70 106.05 L233.00 106.28 L233.70 106.85 L234.70 107.68 L235.70 108.54 L236.00 108.80 L236.70 109.42 L237.70 110.34 L238.70 111.28 L239.00 111.57 L239.70 112.25 L240.70 113.24 L241.70 114.25 L242.00 114.56 L242.70 115.29 L243.70 116.35 L244.70 117.44 L245.00 117.76 L245.70 118.54 L246.70 119.66 L247.70 120.81 L248.00 121.15 L248.70 121.97 L249.70 123.15 L250.70 124.35 L251.00 124.71 L251.70 125.56 L252.70 126.79 L253.70 128.04 L254.00 128.41 L254.70 129.29 L255.70 130.57 L256.70 131.85 L257.00 132.24 L257.70 133.15 L258.70 134.45 L259.70 135.77 L260.00 136.17 L260.70 137.10 L261.70 138.44 L262.70 139.78 L263.00 140.18 L263.70 141.13 L264.70 142.49 L265.70 143.85 L266.00 144.26 L266.70 145.22 L267.70 146.59 L268.70 147.97 L269.00 148.38 L269.70 149.35 L270.70 150.73 L271.70 152.11 L272.00 152.53 L272.70 153.50 L273.70 154.88 L274.70 156.26 L275.00 156.68 L275.70 157.64 L276.70 159.03 L277.70 160.41 L278.00 160.82 L278.70 161.78 L279.70 163.16 L280.70 164.54 L281.00 164.95 L281.70 165.91 L282.70 167.28 L283.70 168.64 L284.00 169.05 L284.70 170.00 L285.70 171.36 L286.70 172.71 L287.00 173.11 L287.70 174.05 L288.70 175.39 L289.70 176.73 L290.00 177.13 L290.70 178.06 L291.70 179.38 L292.70 180.69 L293.00 181.09 L293.70 182.00 L294.70 183.30 L295.70 184.59 L296.00 184.97 L296.70 185.87 L297.70 187.14 L298.70 188.41 L299.00 188.78 L299.70 189.66 L300.70 190.90 L301.70 192.13 L302.00 192.50 L302.70 193.36 L303.70 194.57 L304.70 195.76 L305.00 196.12 L305.70 196.95 L306.70 198.12 L307.70 199.28 L308.00 199.63 L308.70 200.43 L309.70 201.56 L310.70 202.68 L311.00 203.02 L311.70 203.79 L312.70 204.88 L313.70 205.95 L314.00 206.27 L314.70 207.01 L315.70 208.05 L316.70 209.08 L317.00 209.38 L317.70 210.08 L318.70 211.08 L319.70 212.05 L320.00 212.34 L320.70 213.01 L321.70 213.94 L322.70 214.86 L323.00 215.13 L323.70 215.76 L324.70 216.64 L325.70 217.50 L326.00 217.75 L326.70 218.34 L327.70 219.16 L328.70 219.95 L329.00 220.19 L329.70 220.73 L330.70 221.48 L331.70 222.21 L332.00 222.43 L332.70 222.92 L333.70 223.61 L334.70 224.27 L335.00 224.46 L335.70 224.91 L336.70 225.52 L337.70 226.11 L338.00 226.28 L338.70 226.67 L339.70 227.21 L340.70 227.72 L341.00 227.87 L341.70 228.21 L342.70 228.67 L343.70 229.10 L344.00 229.22 L344.70 229.50 L345.70 229.88 L346.70 230.23 L347.00 230.33 L347.70 230.55 L348.70 230.84 L349.70 231.11 L350.00 231.18 L350.70 231.34 L351.70 231.55 L352.70 231.73 L353.00 231.78 L353.70 231.88 L354.70 232.02 L355.70 232.12 L356.00 232.14 L356.70 232.18 L357.70 232.23 L358.70 232.25 L359.00 232.26 L359.70 232.25 L360.70 232.21 L361.70 232.16 L362.00 232.14 L362.70 232.09 L363.70 231.98 L364.70 231.84 L365.00 231.80 L365.70 231.69 L366.70 231.51 L367.70 231.30 L368.00 231.24 L368.70 231.08 L369.70 230.82 L370.70 230.54 L371.00 230.46 L371.70 230.25 L372.70 229.92 L373.70 229.57 L374.00 229.47 L374.70 229.21 L375.70 228.81 L376.70 228.40 L377.00 228.27 L377.70 227.96 L378.70 227.50 L379.70 227.02 L380.00 226.87 L380.70 226.52 L381.70 226.00 L382.70 225.45 L383.00 225.29 L383.70 224.89 L384.70 224.31 L385.70 223.72 L386.00 223.54 L386.70 223.12 L387.70 222.50 L388.70 221.87 L389.00 221.69 L389.70 221.24 L390.70 220.60 L391.70 219.96 L392.00 219.77 L392.70 219.32 L393.70 218.68 L394.70 218.04 L395.00 217.85 L395.70 217.41 L396.70 216.77 L397.70 216.15 L398.00 215.97 L398.70 215.54 L399.70 214.94 L400.70 214.35 L401.00 214.18 L401.70 213.78 L402.70 213.22 L403.70 212.68 L404.00 212.53 L404.70 212.17 L405.70 211.68 L406.70 211.22 L407.00 211.08 L407.70 210.79 L408.70 210.38 L409.70 210.01 L410.00 209.91 L410.70 209.69 L411.70 209.39 L412.70 209.14 L413.00 209.08 L413.70 208.95 L414.70 208.77 L415.70 208.66 L416.00 208.66 L416.70 208.66 L417.70 208.67 L418.70 208.69 L419.00 208.70 L419.70 208.76 L420.70 208.93 L421.70 209.16 L422.00 209.23 L422.70 209.41 L423.70 209.73 L424.70 210.10 L425.00 210.21 L425.70 210.50 L426.70 210.96 L427.70 211.46 L428.00 211.61 L428.70 211.99 L429.70 212.58 L430.70 213.20 L431.00 213.40 L431.70 213.86 L432.70 214.57 L433.70 215.31 L434.00 215.54 L434.70 216.08 L435.70 216.89 L436.70 217.73 L437.00 217.99 L437.70 218.60 L438.70 219.50 L439.70 220.42 L440.00 220.70 L440.70 221.35 L441.70 222.31 L442.70 223.28 L443.00 223.58 L443.70 224.27 L444.70 225.26 L445.70 226.26 L446.00 226.56 L446.70 227.27 L447.70 228.27 L448.70 229.28 L449.00 229.58 L449.70 230.27 L450.70 231.27 L451.70 232.25 L452.00 232.54 L452.70 233.22 L453.70 234.18 L454.70 235.12 L455.00 235.40 L455.70 236.05 L456.70 236.96 L457.70 237.86 L458.00 238.12 L458.70 238.73 L459.70 239.58 L460.70 240.41 L461.00 240.65 L461.70 241.21 L462.70 242.00 L463.70 242.75 L464.00 242.97 L464.70 243.48 L465.70 244.18 L466.70 244.84 L467.00 245.04 L467.70 245.48 L468.70 246.08 L469.70 246.65 L470.00 246.81 L470.70 247.18 L471.70 247.68 L472.70 248.14 L473.00 248.26 L473.70 248.55 L474.70 248.93 L475.70 249.26 L476.00 249.35 L476.70 249.55 L477.70 249.80 L478.70 250.00 L479.00 250.04 L479.70 250.13 L480.70 250.24 L481.50 250.29" fill="none" stroke="#ff8000" stroke-width="1.80" stroke-linejoin="bevel" stroke-linecap="butt"/>
<path d="M72.70 68.60 L73.70 68.60 L74.70 68.60 L75.70 68.60 L76.70 68.60 L77.70 68.60 L78.70 68.61 L79.70 68.61 L80.70 68.61 L81.70 68.61 L82.70 68.62 L83.70 68.62 L84.70 68.62 L85.70 68.63 L86.70 68.63 L87.70 68.64 L88.70 68.64 L89.70 68.65 L90.70 68.65 L91.70 68.66 L92.70 68.67 L93.70 68.67 L94.70 68.68 L95.70 68.69 L96.70 68.70 L97.70 68.70 L98.70 68.71 L99.70 68.72 L100.00 68.72 L100.70 68.73 L101.70 68.76 L102.70 68.79 L103.70 68.82 L104.70 68.87 L105.70 68.92 L106.70 68.96 L107.70 69.01 L108.70 69.06 L109.70 69.11 L110.00 69.12 L110.70 69.16 L111.70 69.20 L112.70 69.24 L113.70 69.29 L114.70 69.33 L115.70 69.38 L116.70 69.43 L117.70 69.49 L118.70 69.55 L119.70 69.61 L120.70 69.68 L121.70 69.76 L122.70 69.84 L123.70 69.93 L124.70 70.02 L125.70 70.13 L126.70 70.24 L126.80 70.25 L127.70 70.36 L128.70 70.49 L129.70 70.64 L130.70 70.81 L131.70 70.99 L132.70 71.20 L133.70 71.43 L134.70 71.69 L134.90 71.75 L135.70 72.00 L136.70 72.38 L137.70 72.86 L138.70 73.46 L139.70 74.19 L139.90 74.35 L140.55 75.04 L140.65 75.17 L140.70 75.24 L140.75 75.31 L140.85 75.46 L140.95 75.60 L141.05 75.76 L141.15 75.92 L141.25 76.09 L141.35 76.26 L141.45 76.43 L141.55 76.61 L141.65 76.80 L141.70 76.89 L141.75 76.99 L141.85 77.18 L141.95 77.38 L142.05 77.58 L142.15 77.78 L142.25 77.99 L142.35 78.20 L142.38 78.26 L142.45 78.41 L142.55 78.64 L142.65 78.89 L142.70 79.01 L142.75 79.14 L142.85 79.41 L142.95 79.69 L143.05 79.99 L143.15 80.29 L143.25 80.60 L143.35 80.93 L143.45 81.26 L143.55 81.60 L143.65 81.94 L143.70 82.12 L143.75 82.30 L143.85 82.66 L143.88 82.77 L143.95 83.03 L144.05 83.42 L144.15 83.82 L144.25 84.25 L144.35 84.69 L144.45 85.14 L144.55 85.61 L144.65 86.09 L144.70 86.34 L144.75 86.59 L144.85 87.10 L144.95 87.62 L144.98 87.78 L145.05 88.15 L145.15 88.70 L145.25 89.26 L145.35 89.86 L145.45 90.48 L145.55 91.15 L145.65 91.86 L145.68 92.09 L145.70 92.24 L145.75 92.63 L145.85 93.45 L145.95 94.34 L146.05 95.30 L146.15 96.34 L146.25 97.46 L146.28 97.81 L146.35 98.68 L146.45 100.03 L146.55 101.52 L146.65 103.14 L146.70 104.00 L146.75 104.89 L146.85 106.76 L146.88 107.35 L146.95 108.71 L147.05 110.82 L147.15 113.53 L147.20 115.25 L147.25 117.85 L147.35 125.30 L147.40 128.75 L147.45 131.50 L147.55 136.32 L147.65 142.25 L147.70 146.42 L147.75 151.52 L147.85 163.64 L147.90 170.25 L147.95 177.51 L148.05 194.53 L148.15 212.89 L148.25 230.25 L148.35 244.85 L148.39 250.00 M148.71 250.00 L148.75 244.85 L148.85 230.25 L148.95 212.89 L149.05 194.53 L149.15 177.51 L149.20 170.25 L149.25 163.64 L149.35 151.52 L149.45 142.25 L149.55 135.74 L149.65 130.73 L149.70 128.75 L149.75 127.00 L149.85 123.77 L149.95 120.90 L150.05 118.33 L150.15 116.03 L150.25 113.94 L150.35 112.03 L150.45 110.25 L150.55 108.59 L150.65 107.06 L150.70 106.34 L150.75 105.64 L150.85 104.31 L150.95 103.05 L151.05 101.85 L151.15 100.69 L151.25 99.55 L151.35 98.41 L151.45 97.25 L151.55 96.04 L151.65 94.78 L151.70 94.15 L151.75 93.53 L151.85 92.38 L151.95 91.36 L152.05 90.55 L152.10 90.25 L152.15 89.99 L152.25 89.48 L152.35 89.01 L152.45 88.56 L152.55 88.15 L152.65 87.75 L152.70 87.57 L152.75 87.39 L152.85 87.04 L152.95 86.72 L153.05 86.42 L153.15 86.14 L153.25 85.87 L153.35 85.62 L153.45 85.38 L153.55 85.15 L153.65 84.94 L153.70 84.83 L153.75 84.73 L153.85 84.54 L153.95 84.34 L154.00 84.25 L154.05 84.16 L154.15 83.98 L154.25 83.82 L154.35 83.66 L154.45 83.52 L154.55 83.38 L154.65 83.25 L154.70 83.19 L154.75 83.13 L154.85 83.01 L154.95 82.90 L155.00 82.85 L155.05 82.80 L155.15 82.70 L155.25 82.61 L155.35 82.53 L155.45 82.45 L155.55 82.37 L155.65 82.29 L155.70 82.26 L155.75 82.22 L155.85 82.14 L155.95 82.07 L156.00 82.03 L156.05 81.99 L156.15 81.92 L156.25 81.84 L156.35 81.77 L156.45 81.69 L156.70 81.51 L157.50 80.98 L157.70 80.87 L158.70 80.41 L159.00 80.30 L159.70 80.09 L160.50 79.93 L160.70 79.90 L161.70 79.80 L162.00 79.80 L162.70 79.81 L163.50 79.84 L163.70 79.85 L164.70 79.96 L165.00 80.00 L165.70 80.09 L166.50 80.21 L166.70 80.24 L167.70 80.41 L168.00 80.46 L168.70 80.60 L169.50 80.76 L169.70 80.81 L170.70 81.03 L171.00 81.10 L171.70 81.28 L172.50 81.49 L172.70 81.54 L173.70 81.82 L174.00 81.91 L174.70 82.11 L175.50 82.36 L175.70 82.43 L176.70 82.75 L177.00 82.85 L177.70 83.10 L178.50 83.38 L178.70 83.45 L179.70 83.82 L180.00 83.94 L180.70 84.21 L181.50 84.52 L181.70 84.60 L182.70 85.01 L183.00 85.14 L183.70 85.44 L184.50 85.78 L184.70 85.87 L185.70 86.31 L186.00 86.45 L186.70 86.77 L187.50 87.15 L187.70 87.25 L188.70 87.75 L189.00 87.91 L189.70 88.29 L190.50 88.74 L190.70 88.86 L191.70 89.49 L192.00 89.69 L192.70 90.17 L193.50 90.76 L193.70 90.91 L194.70 91.73 L195.00 91.98 L195.70 92.62 L196.50 93.39 L196.70 93.59 L197.70 94.66 L198.00 95.00 L198.70 95.83 L199.50 96.84 L199.70 97.11 L200.70 98.50 L201.00 98.94 L201.30 99.39 L201.40 99.54 L201.50 99.69 L201.60 99.84 L201.70 100.00 L201.80 100.15 L201.90 100.31 L202.00 100.48 L202.10 100.64 L202.20 100.81 L202.30 100.99 L202.40 101.17 L202.50 101.35 L202.60 101.54 L202.70 101.73 L202.80 101.93 L202.90 102.13 L203.00 102.33 L203.10 102.54 L203.20 102.76 L203.30 102.98 L203.40 103.21 L203.50 103.44 L203.60 103.68 L203.70 103.93 L203.80 104.19 L203.90 104.45 L204.00 104.73 L204.10 105.01 L204.20 105.31 L204.30 105.61 L204.40 105.93 L204.50 106.26 L204.60 106.60 L204.70 106.95 L204.80 107.31 L204.90 107.69 L205.00 108.08 L205.10 108.49 L205.20 108.91 L205.30 109.34 L205.40 109.79 L205.50 110.25 L205.60 110.74 L205.70 111.26 L205.80 111.81 L205.90 112.41 L206.00 113.04 L206.10 113.72 L206.20 114.45 L206.30 115.28 L206.40 116.23 L206.50 117.24 L206.60 118.25 L206.70 119.22 L206.80 120.17 L206.90 121.11 L207.00 122.09 L207.10 123.14 L207.20 124.28 L207.30 125.55 L207.35 126.25 L207.40 126.97 L207.50 128.52 L207.60 130.39 L207.70 132.79 L207.75 134.25 L207.80 136.51 L207.90 142.25 L208.00 146.39 L208.05 148.25 L208.10 149.99 L208.20 153.14 L208.30 156.39 L208.35 158.25 L208.40 160.19 L208.50 164.39 L208.60 170.25 L208.70 181.89 L208.80 199.36 L208.90 217.97 L208.95 226.00 M209.65 226.00 L209.70 217.97 L209.80 199.36 L209.90 181.89 L210.00 170.25 L210.10 164.39 L210.20 160.19 L210.25 158.25 L210.30 156.39 L210.40 153.14 L210.50 149.99 L210.55 148.25 L210.60 146.39 L210.70 142.25 L210.80 136.51 L210.85 134.25 L210.90 132.79 L211.00 130.37 L211.10 128.49 L211.20 126.95 L211.25 126.25 L211.30 125.59 L211.40 124.41 L211.50 123.38 L211.60 122.44 L211.70 121.55 L211.80 120.67 L211.90 119.75 L212.00 118.79 L212.10 117.85 L212.20 116.93 L212.30 116.05 L212.40 115.17 L212.50 114.28 L212.60 113.44 L212.70 112.71 L212.80 112.15 L212.90 111.72 L213.00 111.32 L213.10 110.96 L213.20 110.63 L213.30 110.33 L213.40 110.05 L213.50 109.79 L213.60 109.56 L213.70 109.34 L213.80 109.14 L213.90 108.95 L214.00 108.77 L214.10 108.60 L214.20 108.44 L214.30 108.28 L214.40 108.13 L214.50 107.99 L214.60 107.86 L214.70 107.73 L214.80 107.62 L214.90 107.51 L215.00 107.42 L215.10 107.33 L215.20 107.25 L215.30 107.18 L215.40 107.10 L215.50 107.03 L215.60 106.96 L215.70 106.90 L215.80 106.83 L215.90 106.77 L216.00 106.72 L216.10 106.67 L216.20 106.63 L216.30 106.60 L216.40 106.57 L216.50 106.56 L216.60 106.55 L216.70 106.55 L216.80 106.56 L216.90 106.57 L217.00 106.58 L217.10 106.59 L217.20 106.61 L217.70 106.72 L218.50 106.95 L218.70 107.01 L219.70 107.44 L220.70 108.00 L221.70 108.62 L221.90 108.75 L222.70 109.27 L223.70 109.97 L224.70 110.73 L225.70 111.53 L226.70 112.37 L227.70 113.24 L228.70 114.14 L229.70 115.05 L230.00 115.32 L230.70 115.98 L231.70 116.99 L232.70 118.04 L233.00 118.36 L233.70 119.11 L234.70 120.21 L235.70 121.34 L236.00 121.68 L236.70 122.49 L237.70 123.68 L238.70 124.90 L239.00 125.27 L239.70 126.14 L240.70 127.41 L241.70 128.71 L242.00 129.10 L242.70 130.02 L243.70 131.37 L244.70 132.74 L245.00 133.15 L245.70 134.12 L246.70 135.54 L247.70 136.97 L248.00 137.40 L248.70 138.42 L249.70 139.89 L250.70 141.38 L251.00 141.82 L251.70 142.88 L252.70 144.40 L253.70 145.94 L254.00 146.40 L254.70 147.49 L255.70 149.06 L256.70 150.64 L257.00 151.11 L257.70 152.23 L258.70 153.83 L259.70 155.45 L260.00 155.93 L260.70 157.07 L261.70 158.70 L262.70 160.34 L263.00 160.84 L263.70 161.99 L264.70 163.65 L265.70 165.31 L266.00 165.81 L266.70 166.97 L267.70 168.64 L268.70 170.31 L269.00 170.80 L269.70 171.94 L270.70 173.54 L271.70 175.13 L272.00 175.60 L272.70 176.69 L273.70 178.24 L274.70 179.78 L275.00 180.24 L275.70 181.32 L276.70 182.85 L277.70 184.39 L278.00 184.86 L278.70 185.94 L279.70 187.51 L280.70 189.09 L281.00 189.56 L281.70 190.66 L282.70 192.22 L283.70 193.77 L284.00 194.23 L284.70 195.31 L285.70 196.84 L286.70 198.37 L287.00 198.83 L287.70 199.89 L288.70 201.41 L289.70 202.92 L290.00 203.37 L290.70 204.42 L291.70 205.92 L292.70 207.42 L293.00 207.86 L293.70 208.89 L294.70 210.35 L295.70 211.79 L296.00 212.22 L296.70 213.20 L297.70 214.60 L298.70 215.97 L299.00 216.38 L299.70 217.32 L300.70 218.64 L301.70 219.94 L302.00 220.33 L302.70 221.22 L303.70 222.46 L304.70 223.68 L305.00 224.04 L305.70 224.88 L306.70 226.06 L307.70 227.23 L308.00 227.57 L308.70 228.38 L309.70 229.51 L310.70 230.63 L311.00 230.96 L311.70 231.73 L312.70 232.81 L313.70 233.88 L314.00 234.19 L314.70 234.92 L315.70 235.94 L316.70 236.94 L317.00 237.24 L317.70 237.92 L318.70 238.88 L319.70 239.83 L320.00 240.12 L320.70 240.79 L321.70 241.73 L322.70 242.66 L323.00 242.93 L323.70 243.57 L324.70 244.45 L325.70 245.29 L326.00 245.54 L326.70 246.10 L327.70 246.87 L328.70 247.59 L329.00 247.80 L329.70 248.29 L330.70 248.98 L331.70 249.64 L332.00 249.83 L332.70 250.28 L333.70 250.90 L334.70 251.50 L335.00 251.68 L335.70 252.08 L336.70 252.64 L337.70 253.17 L338.00 253.33 L338.70 253.69 L339.70 254.18 L340.70 254.65 L341.00 254.78 L341.70 255.09 L342.70 255.52 L343.70 255.92 L344.00 256.04 L344.70 256.30 L345.70 256.67 L346.70 257.00 L347.00 257.10 L347.70 257.32 L348.70 257.61 L349.70 257.88 L350.00 257.96 L350.70 258.13 L351.70 258.36 L352.70 258.56 L353.00 258.61 L353.70 258.73 L354.70 258.89 L355.70 259.03 L356.00 259.06 L356.70 259.13 L357.70 259.22 L358.70 259.28 L359.00 259.29 L359.70 259.29 L360.70 259.30 L361.70 259.30 L362.00 259.30 L362.70 259.28 L363.70 259.21 L364.70 259.12 L365.00 259.09 L365.70 259.01 L366.70 258.87 L367.70 258.71 L368.00 258.66 L368.70 258.52 L369.70 258.31 L370.70 258.07 L371.00 257.99 L371.70 257.80 L372.70 257.51 L373.70 257.19 L374.00 257.09 L374.70 256.85 L375.70 256.47 L376.70 256.07 L377.00 255.95 L377.70 255.65 L378.70 255.20 L379.70 254.72 L380.00 254.57 L380.70 254.21 L381.70 253.67 L382.70 253.11 L383.00 252.94 L383.70 252.53 L384.70 251.93 L385.70 251.30 L386.00 251.11 L386.70 250.67 L387.70 250.01 L388.70 249.35 L389.00 249.15 L389.70 248.68 L390.70 247.99 L391.70 247.31 L392.00 247.11 L392.70 246.63 L393.70 245.94 L394.70 245.26 L395.00 245.06 L395.70 244.58 L396.70 243.91 L397.70 243.26 L398.00 243.06 L398.70 242.61 L399.70 241.98 L400.70 241.37 L401.00 241.19 L401.70 240.78 L402.70 240.20 L403.70 239.66 L404.00 239.50 L404.70 239.14 L405.70 238.65 L406.70 238.19 L407.00 238.06 L407.70 237.77 L408.70 237.38 L409.70 237.03 L410.00 236.93 L410.70 236.73 L411.70 236.45 L412.70 236.24 L413.00 236.19 L413.70 236.09 L414.70 235.96 L415.70 235.89 L416.00 235.89 L416.70 235.90 L417.70 235.96 L418.70 236.06 L419.00 236.09 L419.70 236.19 L420.70 236.42 L421.70 236.71 L422.00 236.80 L422.70 237.02 L423.70 237.40 L424.70 237.83 L425.00 237.96 L425.70 238.29 L426.70 238.80 L427.70 239.35 L428.00 239.52 L428.70 239.94 L429.70 240.56 L430.70 241.23 L431.00 241.43 L431.70 241.91 L432.70 242.64 L433.70 243.39 L434.00 243.62 L434.70 244.16 L435.70 244.97 L436.70 245.79 L437.00 246.04 L437.70 246.63 L438.70 247.50 L439.70 248.38 L440.00 248.64 L440.70 249.27 L441.70 250.17 L442.70 251.09 L443.00 251.36 L443.70 252.01 L444.70 252.94 L445.70 253.87 L446.00 254.15 L446.70 254.80 L447.70 255.73 L448.70 256.67 L449.00 256.94 L449.70 257.59 L450.70 258.51 L451.70 259.42 L452.00 259.69 L452.70 260.32 L453.70 261.21 L454.70 262.09 L455.00 262.35 L455.70 262.95 L456.70 263.79 L457.70 264.62 L458.00 264.86 L458.70 265.42 L459.70 266.20 L460.70 266.96 L461.00 267.19 L461.70 267.70 L462.70 268.41 L463.70 269.09 L464.00 269.28 L464.70 269.73 L465.70 270.35 L466.70 270.94 L467.00 271.10 L467.70 271.48 L468.70 272.00 L469.70 272.47 L470.00 272.60 L470.70 272.90 L471.70 273.30 L472.70 273.65 L473.00 273.74 L473.70 273.95 L474.70 274.22 L475.70 274.43 L476.00 274.47 L476.70 274.56 L477.70 274.68 L478.70 274.74 L479.00 274.75 L479.70 274.74 L480.70 274.68 L481.50 274.60" fill="none" stroke="#1a80ff" stroke-width="1.80" stroke-linejoin="bevel" stroke-linecap="butt"/>
<path d="M147.35 249.70 L149.75 249.70 L149.35 252.00 L149.30 280.50 L147.80 280.50 L147.75 252.00 Z" fill="#1a80ff"/>
<path d="M208.00 225.70 L210.60 225.70 L210.50 251.00 L210.15 277.00 L209.40 283.20 L208.45 277.00 L208.10 251.00 Z" fill="#1a80ff"/>
<!-- legend -->
<line x1="132.3" y1="181.0" x2="203.7" y2="181.0" stroke="#cc0000" stroke-width="1.9"/>
<text x="215.5" y="186.3" class="leg">r = 0</text>
<line x1="132.3" y1="204.5" x2="203.7" y2="204.5" stroke="#00c800" stroke-width="1.9"/>
<text x="215.5" y="209.8" class="leg">r = 0.001</text>
<line x1="132.3" y1="228.1" x2="203.7" y2="228.1" stroke="#3a3aff" stroke-width="1.9"/>
<text x="215.5" y="233.4" class="leg">r = 0.003</text>
<line x1="132.3" y1="251.6" x2="203.7" y2="251.6" stroke="#ff00ff" stroke-width="1.9"/>
<text x="215.5" y="256.9" class="leg">r = 0.005</text>
<line x1="132.3" y1="275.2" x2="203.7" y2="275.2" stroke="#ff8000" stroke-width="1.9"/>
<text x="215.5" y="280.5" class="leg">r = 0.007</text>
<line x1="132.3" y1="298.8" x2="203.7" y2="298.8" stroke="#1a80ff" stroke-width="1.9"/>
<text x="215.5" y="304.1" class="leg">r = 0.01</text>
<!-- axes -->
<path d="M72.70 6.90 V318.35 H482.50" fill="none" stroke="#000" stroke-width="2.1" stroke-linecap="square"/>
<path d="M72.70 7.00 H482.50" fill="none" stroke="#000" stroke-width="1.6" stroke-linecap="square"/>
<path d="M482.50 7.00 V318.35" fill="none" stroke="#000" stroke-width="1.8" stroke-linecap="square"/>
<line x1="87.50" y1="318.35" x2="87.50" y2="313.95" stroke="#000" stroke-width="1"/>
<line x1="118.23" y1="318.35" x2="118.23" y2="310.95" stroke="#000" stroke-width="1.8"/>
<text transform="translate(118.23,337.0) scale(0.895,1)" class="tk" text-anchor="middle">-2</text>
<line x1="148.50" y1="318.35" x2="148.50" y2="313.95" stroke="#000" stroke-width="1"/>
<line x1="178.94" y1="318.35" x2="178.94" y2="310.95" stroke="#000" stroke-width="1.8"/>
<text transform="translate(178.94,337.0) scale(0.895,1)" class="tk" text-anchor="middle">0</text>
<line x1="209.50" y1="318.35" x2="209.50" y2="313.95" stroke="#000" stroke-width="1"/>
<line x1="239.66" y1="318.35" x2="239.66" y2="310.95" stroke="#000" stroke-width="1.8"/>
<text transform="translate(239.66,337.0) scale(0.895,1)" class="tk" text-anchor="middle">2</text>
<line x1="270.50" y1="318.35" x2="270.50" y2="313.95" stroke="#000" stroke-width="1"/>
<line x1="300.37" y1="318.35" x2="300.37" y2="310.95" stroke="#000" stroke-width="1.8"/>
<text transform="translate(300.37,337.0) scale(0.895,1)" class="tk" text-anchor="middle">4</text>
<line x1="330.50" y1="318.35" x2="330.50" y2="313.95" stroke="#000" stroke-width="1"/>
<line x1="361.08" y1="318.35" x2="361.08" y2="310.95" stroke="#000" stroke-width="1.8"/>
<text transform="translate(361.08,337.0) scale(0.895,1)" class="tk" text-anchor="middle">6</text>
<line x1="391.50" y1="318.35" x2="391.50" y2="313.95" stroke="#000" stroke-width="1"/>
<line x1="421.79" y1="318.35" x2="421.79" y2="310.95" stroke="#000" stroke-width="1.8"/>
<text transform="translate(421.79,337.0) scale(0.895,1)" class="tk" text-anchor="middle">8</text>
<line x1="452.50" y1="318.35" x2="452.50" y2="313.95" stroke="#000" stroke-width="1"/>
<line x1="482.50" y1="318.35" x2="482.50" y2="310.95" stroke="#000" stroke-width="1.8"/>
<text transform="translate(482.50,337.0) scale(0.895,1)" class="tk" text-anchor="middle">10</text>
<line x1="72.70" y1="318.35" x2="80.00" y2="318.35" stroke="#000" stroke-width="1.8"/>
<text transform="translate(67.2,324.15) scale(0.895,1)" class="tk" text-anchor="end">0</text>
<line x1="72.70" y1="287.50" x2="77.40" y2="287.50" stroke="#000" stroke-width="1"/>
<line x1="72.70" y1="256.06" x2="80.00" y2="256.06" stroke="#000" stroke-width="1.8"/>
<text transform="translate(67.2,261.86) scale(0.895,1)" class="tk" text-anchor="end">0.2</text>
<line x1="72.70" y1="224.50" x2="77.40" y2="224.50" stroke="#000" stroke-width="1"/>
<line x1="72.70" y1="193.77" x2="80.00" y2="193.77" stroke="#000" stroke-width="1.8"/>
<text transform="translate(67.2,199.57) scale(0.895,1)" class="tk" text-anchor="end">0.4</text>
<line x1="72.70" y1="162.50" x2="77.40" y2="162.50" stroke="#000" stroke-width="1"/>
<line x1="72.70" y1="131.48" x2="80.00" y2="131.48" stroke="#000" stroke-width="1.8"/>
<text transform="translate(67.2,137.28) scale(0.895,1)" class="tk" text-anchor="end">0.6</text>
<line x1="72.70" y1="100.50" x2="77.40" y2="100.50" stroke="#000" stroke-width="1"/>
<line x1="72.70" y1="69.19" x2="80.00" y2="69.19" stroke="#000" stroke-width="1.8"/>
<text transform="translate(67.2,74.99) scale(0.895,1)" class="tk" text-anchor="end">0.8</text>
<line x1="72.70" y1="38.50" x2="77.40" y2="38.50" stroke="#000" stroke-width="1"/>
<line x1="72.70" y1="6.90" x2="80.00" y2="6.90" stroke="#000" stroke-width="1.8"/>
<text transform="translate(67.2,12.70) scale(0.895,1)" class="tk" text-anchor="end">1</text>
<!-- labels -->
<text x="2.2" y="20.4" class="ser" style="font-size:24.2px;letter-spacing:0.8px">(d)</text>
<text transform="translate(217.4,40.5) scale(1,1.06)" class="ser" style="font-size:21.5px;letter-spacing:0.38px">a=0.9,</text>
<text x="280.3" y="40.6" style="font-family:'Liberation Serif',serif;font-size:26px" stroke="#000" stroke-width="0.3">&#964;</text>
<text transform="translate(294.0,40.5) scale(1,1.06)" class="ser" style="font-size:21.5px;letter-spacing:0.7px">=0.1</text>
<text transform="translate(23.7,185.6) rotate(-90)" class="ser" style="font-size:30.7px">QD</text>
<text x="256" y="368.6" class="ser" style="font-size:29px;letter-spacing:0.3px">h(t)</text>
</svg>
</body></html>
